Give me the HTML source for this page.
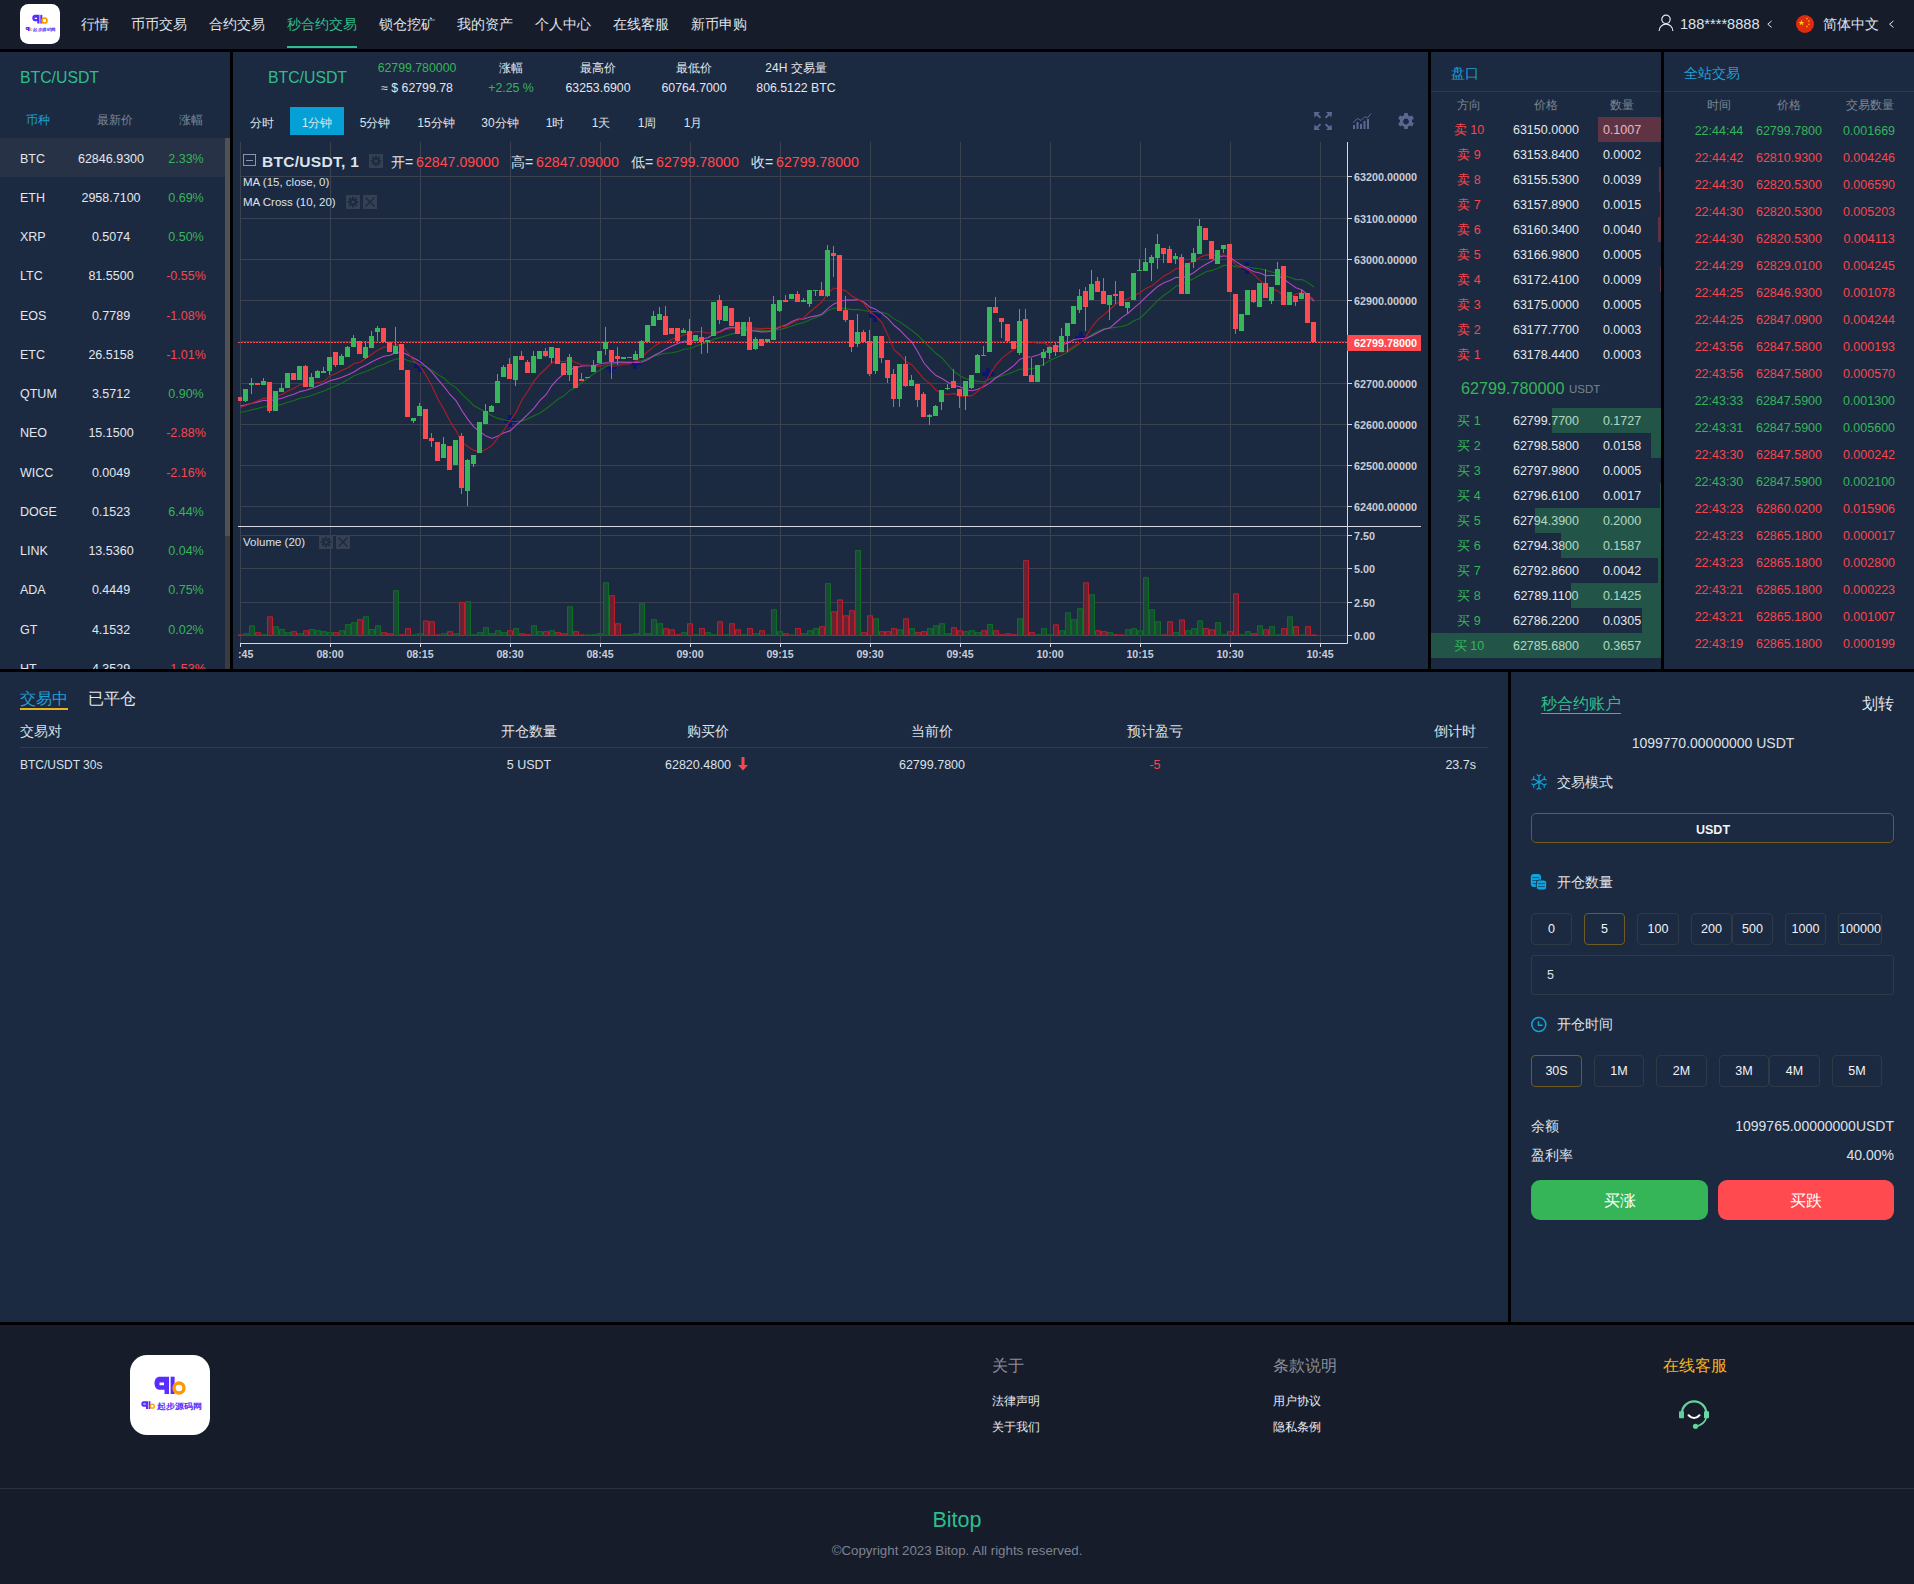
<!DOCTYPE html>
<html><head><meta charset="utf-8">
<style>
*{margin:0;padding:0;box-sizing:border-box}
html,body{width:1914px;height:1584px;overflow:hidden;background:#000;font-family:"Liberation Sans",sans-serif;color:#e3e6ee}
.a{position:absolute;white-space:nowrap}
.p{position:absolute;background:#1b2a40;overflow:hidden}
.hdr{position:absolute;left:0;top:0;width:1914px;height:49px;background:#171c2a}
.nav{position:absolute;top:16px;font-size:14px;line-height:16px;color:#dfe3ea}
.teal{color:#2fbd8f}
.blue{color:#1ea0d8}
.grey{color:#7a8494}
.g{color:#37b45b}
.r{color:#f5474f}
.c{text-align:center}
.rt{text-align:right}
svg{position:absolute;overflow:visible}

</style></head><body>
<div class="hdr">
<svg style="left:20px;top:4px" width="40.0" height="40.0" viewBox="0 0 80 80"><rect width="80" height="80" rx="17" fill="#fff"/><path d="M30 21.7H39V39H34.5V34.7H30C26.5 34.7 24.5 32 24.5 28.2 24.5 24.4 26.5 21.7 30 21.7ZM29.5 27.4V30.2H34V27.4Z" fill="#5a2dff" fill-rule="evenodd"/><rect x="40.6" y="21.7" width="4" height="17.3" fill="#5a2dff"/><circle cx="49" cy="33" r="5" stroke="#ff9800" stroke-width="3.4" fill="none"/><path d="M13.5 46.2h4.5v7.8h-2v-2.2h-2.5c-1.4 0-2.2-1.2-2.2-2.8s0.8-2.8 2.2-2.8zM13.3 48.6v1h2.5v-1z" fill="#5a2dff" fill-rule="evenodd"/><rect x="18.6" y="46.2" width="1.8" height="7.8" fill="#5a2dff"/><circle cx="22.3" cy="51.2" r="2" stroke="#ff9800" stroke-width="1.3" fill="none"/><text x="26.5" y="53.6" font-size="8.3" font-weight="bold" fill="#5a2dff" font-family="Liberation Sans, sans-serif" textLength="45" lengthAdjust="spacingAndGlyphs">起步源码网</text></svg>
<div class="nav a " style="left:81px">行情</div>
<div class="nav a " style="left:131px">币币交易</div>
<div class="nav a " style="left:209px">合约交易</div>
<div class="nav a teal" style="left:287px">秒合约交易</div>
<div class="nav a " style="left:379px">锁仓挖矿</div>
<div class="nav a " style="left:457px">我的资产</div>
<div class="nav a " style="left:535px">个人中心</div>
<div class="nav a " style="left:613px">在线客服</div>
<div class="nav a " style="left:691px">新币申购</div>
<div class="a" style="left:287px;top:46px;width:70px;height:2px;background:#2fbd8f"></div>
<svg style="left:1656px;top:13px" width="20" height="20" viewBox="1656 13 20 20"><circle cx="1666" cy="19.3" r="4.2" stroke="#e6e8f0" stroke-width="1.2" fill="none"/><path d="M1659.2 31A6.8 6.8 0 0 1 1672.8 31" stroke="#e6e8f0" stroke-width="1.2" fill="none"/></svg>
<div class="nav a" style="left:1680px;font-size:14.6px">188****8888</div>
<svg style="left:1765px;top:19px" width="10" height="10" viewBox="1765 19 10 10"><path d="M1771.6 21L1767.8 24.2 1771.6 27.4" stroke="#e6e8f0" stroke-width="1" fill="none"/></svg>
<svg style="left:1796px;top:14.7px" width="18" height="18" viewBox="0 0 18 18"><circle cx="9" cy="9" r="9" fill="#e02a10"/><path d="M5.4 4.8l0.75 2.1h2.2l-1.8 1.3 0.7 2.1-1.85-1.3-1.8 1.3 0.7-2.1-1.8-1.3h2.2z" fill="#ffd400"/><g fill="#f5c000"><circle cx="11" cy="3.6" r="0.8"/><circle cx="12.9" cy="6.1" r="0.8"/><circle cx="12.9" cy="9.2" r="0.8"/><circle cx="11" cy="11.6" r="0.8"/></g></svg>
<div class="nav a" style="left:1823px">简体中文</div>
<svg style="left:1886px;top:19px" width="10" height="10" viewBox="1886 19 10 10"><path d="M1893.4 21L1889.6 24.2 1893.4 27.4" stroke="#e6e8f0" stroke-width="1" fill="none"/></svg>
</div>
<div class="p" style="left:0;top:52px;width:230px;height:617px">
<div class="a teal" style="left:20px;top:17px;font-size:15.8px;line-height:18px">BTC/USDT</div>
<div class="a blue" style="left:26px;top:61px;font-size:12px;line-height:14px">币种</div>
<div class="a grey" style="left:97px;top:61px;font-size:12px;line-height:14px">最新价</div>
<div class="a grey" style="left:179px;top:61px;font-size:12px;line-height:14px">涨幅</div>
<div class="a" style="left:0;top:86px;width:225px;height:39px;background:#283246"></div>
<div class="a" style="left:225px;top:86px;width:5px;height:531px;background:#3a3c40"></div>
<div class="a" style="left:225px;top:86px;width:5px;height:398px;background:#505254"></div>
<div class="a" style="left:20px;top:99.5px;font-size:12.5px;line-height:15px">BTC</div>
<div class="a c" style="left:61px;width:100px;top:99.5px;font-size:12.5px;line-height:15px">62846.9300</div>
<div class="a c g" style="left:146px;width:80px;top:99.5px;font-size:12.5px;line-height:15px">2.33%</div>
<div class="a" style="left:20px;top:138.8px;font-size:12.5px;line-height:15px">ETH</div>
<div class="a c" style="left:61px;width:100px;top:138.8px;font-size:12.5px;line-height:15px">2958.7100</div>
<div class="a c g" style="left:146px;width:80px;top:138.8px;font-size:12.5px;line-height:15px">0.69%</div>
<div class="a" style="left:20px;top:178.0px;font-size:12.5px;line-height:15px">XRP</div>
<div class="a c" style="left:61px;width:100px;top:178.0px;font-size:12.5px;line-height:15px">0.5074</div>
<div class="a c g" style="left:146px;width:80px;top:178.0px;font-size:12.5px;line-height:15px">0.50%</div>
<div class="a" style="left:20px;top:217.2px;font-size:12.5px;line-height:15px">LTC</div>
<div class="a c" style="left:61px;width:100px;top:217.2px;font-size:12.5px;line-height:15px">81.5500</div>
<div class="a c r" style="left:146px;width:80px;top:217.2px;font-size:12.5px;line-height:15px">-0.55%</div>
<div class="a" style="left:20px;top:256.5px;font-size:12.5px;line-height:15px">EOS</div>
<div class="a c" style="left:61px;width:100px;top:256.5px;font-size:12.5px;line-height:15px">0.7789</div>
<div class="a c r" style="left:146px;width:80px;top:256.5px;font-size:12.5px;line-height:15px">-1.08%</div>
<div class="a" style="left:20px;top:295.8px;font-size:12.5px;line-height:15px">ETC</div>
<div class="a c" style="left:61px;width:100px;top:295.8px;font-size:12.5px;line-height:15px">26.5158</div>
<div class="a c r" style="left:146px;width:80px;top:295.8px;font-size:12.5px;line-height:15px">-1.01%</div>
<div class="a" style="left:20px;top:335.0px;font-size:12.5px;line-height:15px">QTUM</div>
<div class="a c" style="left:61px;width:100px;top:335.0px;font-size:12.5px;line-height:15px">3.5712</div>
<div class="a c g" style="left:146px;width:80px;top:335.0px;font-size:12.5px;line-height:15px">0.90%</div>
<div class="a" style="left:20px;top:374.2px;font-size:12.5px;line-height:15px">NEO</div>
<div class="a c" style="left:61px;width:100px;top:374.2px;font-size:12.5px;line-height:15px">15.1500</div>
<div class="a c r" style="left:146px;width:80px;top:374.2px;font-size:12.5px;line-height:15px">-2.88%</div>
<div class="a" style="left:20px;top:413.5px;font-size:12.5px;line-height:15px">WICC</div>
<div class="a c" style="left:61px;width:100px;top:413.5px;font-size:12.5px;line-height:15px">0.0049</div>
<div class="a c r" style="left:146px;width:80px;top:413.5px;font-size:12.5px;line-height:15px">-2.16%</div>
<div class="a" style="left:20px;top:452.8px;font-size:12.5px;line-height:15px">DOGE</div>
<div class="a c" style="left:61px;width:100px;top:452.8px;font-size:12.5px;line-height:15px">0.1523</div>
<div class="a c g" style="left:146px;width:80px;top:452.8px;font-size:12.5px;line-height:15px">6.44%</div>
<div class="a" style="left:20px;top:492.0px;font-size:12.5px;line-height:15px">LINK</div>
<div class="a c" style="left:61px;width:100px;top:492.0px;font-size:12.5px;line-height:15px">13.5360</div>
<div class="a c g" style="left:146px;width:80px;top:492.0px;font-size:12.5px;line-height:15px">0.04%</div>
<div class="a" style="left:20px;top:531.2px;font-size:12.5px;line-height:15px">ADA</div>
<div class="a c" style="left:61px;width:100px;top:531.2px;font-size:12.5px;line-height:15px">0.4449</div>
<div class="a c g" style="left:146px;width:80px;top:531.2px;font-size:12.5px;line-height:15px">0.75%</div>
<div class="a" style="left:20px;top:570.5px;font-size:12.5px;line-height:15px">GT</div>
<div class="a c" style="left:61px;width:100px;top:570.5px;font-size:12.5px;line-height:15px">4.1532</div>
<div class="a c g" style="left:146px;width:80px;top:570.5px;font-size:12.5px;line-height:15px">0.02%</div>
<div class="a" style="left:20px;top:609.8px;font-size:12.5px;line-height:15px">HT</div>
<div class="a c" style="left:61px;width:100px;top:609.8px;font-size:12.5px;line-height:15px">4.3529</div>
<div class="a c r" style="left:146px;width:80px;top:609.8px;font-size:12.5px;line-height:15px">-1.53%</div>
</div>
<div class="p" style="left:233px;top:52px;width:1195px;height:617px">
<div class="a teal" style="left:35.0px;top:17.0px;font-size:15.8px;line-height:18px;">BTC/USDT</div>
<div class="a c g" style="left:124.0px;width:120px;top:9.0px;font-size:12.3px;line-height:14px;">62799.780000</div>
<div class="a c " style="left:124.0px;width:120px;top:29.0px;font-size:12.3px;line-height:14px;">≈ $ 62799.78</div>
<div class="a c " style="left:218.0px;width:120px;top:9.0px;font-size:12px;line-height:14px;">涨幅</div>
<div class="a c g" style="left:218.0px;width:120px;top:29.0px;font-size:12.3px;line-height:14px;">+2.25 %</div>
<div class="a c " style="left:305.0px;width:120px;top:9.0px;font-size:12px;line-height:14px;">最高价</div>
<div class="a c " style="left:305.0px;width:120px;top:29.0px;font-size:12.3px;line-height:14px;">63253.6900</div>
<div class="a c " style="left:401.0px;width:120px;top:9.0px;font-size:12px;line-height:14px;">最低价</div>
<div class="a c " style="left:401.0px;width:120px;top:29.0px;font-size:12.3px;line-height:14px;">60764.7000</div>
<div class="a c " style="left:503.0px;width:120px;top:9.0px;font-size:12px;line-height:14px;">24H 交易量</div>
<div class="a c " style="left:503.0px;width:120px;top:29.0px;font-size:12.3px;line-height:14px;">806.5122 BTC</div>
<div class="a" style="left:57px;top:55px;width:54px;height:28px;background:#04a0d6"></div>
<div class="a c " style="left:-31.0px;width:120px;top:64.0px;font-size:12px;line-height:14px;color:#dfe3ea">分时</div>
<div class="a c " style="left:24.0px;width:120px;top:64.0px;font-size:12px;line-height:14px;color:#dfe3ea">1分钟</div>
<div class="a c " style="left:82.0px;width:120px;top:64.0px;font-size:12px;line-height:14px;color:#dfe3ea">5分钟</div>
<div class="a c " style="left:143.0px;width:120px;top:64.0px;font-size:12px;line-height:14px;color:#dfe3ea">15分钟</div>
<div class="a c " style="left:207.0px;width:120px;top:64.0px;font-size:12px;line-height:14px;color:#dfe3ea">30分钟</div>
<div class="a c " style="left:262.0px;width:120px;top:64.0px;font-size:12px;line-height:14px;color:#dfe3ea">1时</div>
<div class="a c " style="left:308.0px;width:120px;top:64.0px;font-size:12px;line-height:14px;color:#dfe3ea">1天</div>
<div class="a c " style="left:354.0px;width:120px;top:64.0px;font-size:12px;line-height:14px;color:#dfe3ea">1周</div>
<div class="a c " style="left:400.0px;width:120px;top:64.0px;font-size:12px;line-height:14px;color:#dfe3ea">1月</div>
<svg style="left:1079px;top:58px" width="22" height="22" viewBox="1312 110 22 22"><g fill="#5b6791"><path d="M1314 112h6l-2 2 3.2 3.2-1.4 1.4-3.2-3.2-2 2z"/><path d="M1332 112h-6l2 2-3.2 3.2 1.4 1.4 3.2-3.2 2 2z"/><path d="M1314 130h6l-2-2 3.2-3.2-1.4-1.4-3.2 3.2-2-2z"/><path d="M1332 130h-6l2-2-3.2-3.2 1.4-1.4 3.2 3.2 2-2z"/></g></svg>
<svg style="left:1118px;top:59px" width="22" height="20" viewBox="1351 111 22 20"><g fill="#5b6791"><rect x="1353" y="125" width="2" height="4"/><rect x="1356.5" y="122" width="2" height="7"/><rect x="1360" y="124" width="2" height="5"/><rect x="1363.5" y="121" width="2" height="8"/><rect x="1367" y="119" width="2" height="10"/></g><path d="M1353 122.5L1357.5 118.5 1361 120.5 1365 116.5 1367.5 118 1371 113.5" stroke="#5b6791" stroke-width="1" fill="none"/></svg>
<svg style="left:1163px;top:60px" width="20" height="20" viewBox="0 0 20 20"><path fill="#5b6791" fill-rule="evenodd" d="M8.3 1h3.4l0.5 2.4 1.6 0.9 2.3-0.8 1.7 2.9-1.8 1.6v1.9l1.8 1.6-1.7 2.9-2.3-0.8-1.6 0.9-0.5 2.4H8.3l-0.5-2.4-1.6-0.9-2.3 0.8-1.7-2.9 1.8-1.6V8.1L2.2 6.4l1.7-2.9 2.3 0.8 1.6-0.9z M10 6.6a2.9 2.9 0 1 0 0.01 0z"/></svg>
<svg style="left:-233px;top:-52px" width="1914" height="1584" viewBox="0 0 1914 1584"><defs><clipPath id="cp"><rect x="238" y="142" width="1183" height="520"/></clipPath></defs><g clip-path="url(#cp)"><path d="M240.5 142V643 M330.5 142V643 M420.5 142V643 M510.5 142V643 M600.5 142V643 M690.5 142V643 M780.5 142V643 M870.5 142V643 M960.5 142V643 M1050.5 142V643 M1140.5 142V643 M1230.5 142V643 M1320.5 142V643 M240 176.5H1347 M240 218.5H1347 M240 259.5H1347 M240 300.5H1347 M240 341.5H1347 M240 383.5H1347 M240 424.5H1347 M240 465.5H1347 M240 506.5H1347 M240 535.5H1347 M240 568.5H1347 M240 602.5H1347 M240 635.5H1347" stroke="#3b4353" stroke-width="1" fill="none"/>
<path d="M243 633.3h6V636h-6z M249 625.4h6V636h-6z M261 634.3h6V636h-6z M273 626.3h6V636h-6z M279 629.1h6V636h-6z M285 632.2h6V636h-6z M297 633.3h6V636h-6z M309 629.1h6V636h-6z M315 630.3h6V636h-6z M321 631.2h6V636h-6z M327 632.2h6V636h-6z M339 630.3h6V636h-6z M345 624.1h6V636h-6z M351 622.3h6V636h-6z M363 616.4h6V636h-6z M369 629.1h6V636h-6z M375 625.4h6V636h-6z M393 590.3h6V636h-6z M411 634.5h6V636h-6z M417 633.3h6V636h-6z M441 633.3h6V636h-6z M453 633.3h6V636h-6z M465 601.2h6V636h-6z M471 634.3h6V636h-6z M477 632.2h6V636h-6z M483 627.2h6V636h-6z M489 633.3h6V636h-6z M495 630.3h6V636h-6z M501 632.2h6V636h-6z M513 628.2h6V636h-6z M531 625.4h6V636h-6z M537 631.2h6V636h-6z M549 630.3h6V636h-6z M567 606.4h6V636h-6z M585 634.5h6V636h-6z M591 634.3h6V636h-6z M597 633.3h6V636h-6z M603 582.4h6V636h-6z M621 634.5h6V636h-6z M627 634.3h6V636h-6z M633 633.3h6V636h-6z M639 603.3h6V636h-6z M645 633.3h6V636h-6z M651 619.2h6V636h-6z M657 623.3h6V636h-6z M681 632.2h6V636h-6z M693 634.3h6V636h-6z M705 632.2h6V636h-6z M711 634.3h6V636h-6z M723 634.3h6V636h-6z M741 634.3h6V636h-6z M753 633.3h6V636h-6z M765 634.5h6V636h-6z M771 609.3h6V636h-6z M777 631.2h6V636h-6z M789 634.5h6V636h-6z M801 633.3h6V636h-6z M807 630.3h6V636h-6z M813 628.2h6V636h-6z M825 583.2h6V636h-6z M855 550.1h6V636h-6z M873 618.4h6V636h-6z M897 629.4h6V636h-6z M909 628.2h6V636h-6z M927 628.2h6V636h-6z M933 625.4h6V636h-6z M939 623.3h6V636h-6z M945 633.3h6V636h-6z M963 631.2h6V636h-6z M969 630.3h6V636h-6z M975 632.2h6V636h-6z M987 624.1h6V636h-6z M1017 618.4h6V636h-6z M1035 634.3h6V636h-6z M1041 628.2h6V636h-6z M1047 634.3h6V636h-6z M1059 630.3h6V636h-6z M1065 612.4h6V636h-6z M1071 619.2h6V636h-6z M1077 608.2h6V636h-6z M1089 594.4h6V636h-6z M1107 632.2h6V636h-6z M1125 629.4h6V636h-6z M1131 628.2h6V636h-6z M1137 630.3h6V636h-6z M1143 577.2h6V636h-6z M1149 609.3h6V636h-6z M1155 621.3h6V636h-6z M1173 632.2h6V636h-6z M1185 630.3h6V636h-6z M1191 628.2h6V636h-6z M1197 620.5h6V636h-6z M1215 622.3h6V636h-6z M1221 634.3h6V636h-6z M1239 634.3h6V636h-6z M1245 631.2h6V636h-6z M1257 625.4h6V636h-6z M1269 626.3h6V636h-6z M1275 634.5h6V636h-6z M1287 616.4h6V636h-6z M1299 634.5h6V636h-6z" fill="#184a36"/>
<path d="M237 634.5h6V636h-6z M255 632.2h6V636h-6z M267 616.4h6V636h-6z M291 631.2h6V636h-6z M303 630.3h6V636h-6z M333 632.2h6V636h-6z M357 619.2h6V636h-6z M381 632.2h6V636h-6z M387 633.3h6V636h-6z M399 634.3h6V636h-6z M405 628.2h6V636h-6z M423 620.5h6V636h-6z M429 621.3h6V636h-6z M435 634.5h6V636h-6z M447 631.2h6V636h-6z M459 602.1h6V636h-6z M507 630.3h6V636h-6z M519 633.3h6V636h-6z M525 634.3h6V636h-6z M543 631.2h6V636h-6z M555 632.2h6V636h-6z M561 633.3h6V636h-6z M573 631.2h6V636h-6z M579 634.5h6V636h-6z M609 595.2h6V636h-6z M615 623.3h6V636h-6z M663 628.2h6V636h-6z M669 629.4h6V636h-6z M675 634.3h6V636h-6z M687 623.3h6V636h-6z M699 628.2h6V636h-6z M717 621.3h6V636h-6z M729 623.3h6V636h-6z M735 629.4h6V636h-6z M747 628.2h6V636h-6z M759 630.3h6V636h-6z M783 633.3h6V636h-6z M795 628.2h6V636h-6z M819 626.3h6V636h-6z M831 611.3h6V636h-6z M837 599.5h6V636h-6z M843 615.3h6V636h-6z M849 610.3h6V636h-6z M861 632.2h6V636h-6z M867 615.3h6V636h-6z M879 631.2h6V636h-6z M885 631.2h6V636h-6z M891 628.2h6V636h-6z M903 618.4h6V636h-6z M915 632.2h6V636h-6z M921 631.2h6V636h-6z M951 627.2h6V636h-6z M957 630.3h6V636h-6z M981 630.3h6V636h-6z M993 630.3h6V636h-6z M999 634.3h6V636h-6z M1005 633.3h6V636h-6z M1011 634.3h6V636h-6z M1023 560.2h6V636h-6z M1029 632.2h6V636h-6z M1053 624.4h6V636h-6z M1083 582.4h6V636h-6z M1095 630.3h6V636h-6z M1101 631.2h6V636h-6z M1113 634.3h6V636h-6z M1119 634.5h6V636h-6z M1161 634.5h6V636h-6z M1167 621.3h6V636h-6z M1179 619.5h6V636h-6z M1203 628.2h6V636h-6z M1209 629.4h6V636h-6z M1227 631.2h6V636h-6z M1233 593.4h6V636h-6z M1251 633.3h6V636h-6z M1263 629.4h6V636h-6z M1281 628.2h6V636h-6z M1293 626.3h6V636h-6z M1305 626.3h6V636h-6z M1311 634.5h6V636h-6z" fill="#6a2232"/>
<path d="M243.5 635.5V633.8H248.5V635.5Z M249.5 635.5V625.9H254.5V635.5Z M261.5 635.5V634.8H266.5V635.5Z M273.5 635.5V626.8H278.5V635.5Z M279.5 635.5V629.6H284.5V635.5Z M285.5 635.5V632.7H290.5V635.5Z M297.5 635.5V633.8H302.5V635.5Z M309.5 635.5V629.6H314.5V635.5Z M315.5 635.5V630.8H320.5V635.5Z M321.5 635.5V631.7H326.5V635.5Z M327.5 635.5V632.7H332.5V635.5Z M339.5 635.5V630.8H344.5V635.5Z M345.5 635.5V624.6H350.5V635.5Z M351.5 635.5V622.8H356.5V635.5Z M363.5 635.5V616.9H368.5V635.5Z M369.5 635.5V629.6H374.5V635.5Z M375.5 635.5V625.9H380.5V635.5Z M393.5 635.5V590.8H398.5V635.5Z M411.5 635.5V635.0H416.5V635.5Z M417.5 635.5V633.8H422.5V635.5Z M441.5 635.5V633.8H446.5V635.5Z M453.5 635.5V633.8H458.5V635.5Z M465.5 635.5V601.7H470.5V635.5Z M471.5 635.5V634.8H476.5V635.5Z M477.5 635.5V632.7H482.5V635.5Z M483.5 635.5V627.7H488.5V635.5Z M489.5 635.5V633.8H494.5V635.5Z M495.5 635.5V630.8H500.5V635.5Z M501.5 635.5V632.7H506.5V635.5Z M513.5 635.5V628.7H518.5V635.5Z M531.5 635.5V625.9H536.5V635.5Z M537.5 635.5V631.7H542.5V635.5Z M549.5 635.5V630.8H554.5V635.5Z M567.5 635.5V606.9H572.5V635.5Z M585.5 635.5V635.0H590.5V635.5Z M591.5 635.5V634.8H596.5V635.5Z M597.5 635.5V633.8H602.5V635.5Z M603.5 635.5V582.9H608.5V635.5Z M621.5 635.5V635.0H626.5V635.5Z M627.5 635.5V634.8H632.5V635.5Z M633.5 635.5V633.8H638.5V635.5Z M639.5 635.5V603.8H644.5V635.5Z M645.5 635.5V633.8H650.5V635.5Z M651.5 635.5V619.7H656.5V635.5Z M657.5 635.5V623.8H662.5V635.5Z M681.5 635.5V632.7H686.5V635.5Z M693.5 635.5V634.8H698.5V635.5Z M705.5 635.5V632.7H710.5V635.5Z M711.5 635.5V634.8H716.5V635.5Z M723.5 635.5V634.8H728.5V635.5Z M741.5 635.5V634.8H746.5V635.5Z M753.5 635.5V633.8H758.5V635.5Z M765.5 635.5V635.0H770.5V635.5Z M771.5 635.5V609.8H776.5V635.5Z M777.5 635.5V631.7H782.5V635.5Z M789.5 635.5V635.0H794.5V635.5Z M801.5 635.5V633.8H806.5V635.5Z M807.5 635.5V630.8H812.5V635.5Z M813.5 635.5V628.7H818.5V635.5Z M825.5 635.5V583.7H830.5V635.5Z M855.5 635.5V550.6H860.5V635.5Z M873.5 635.5V618.9H878.5V635.5Z M897.5 635.5V629.9H902.5V635.5Z M909.5 635.5V628.7H914.5V635.5Z M927.5 635.5V628.7H932.5V635.5Z M933.5 635.5V625.9H938.5V635.5Z M939.5 635.5V623.8H944.5V635.5Z M945.5 635.5V633.8H950.5V635.5Z M963.5 635.5V631.7H968.5V635.5Z M969.5 635.5V630.8H974.5V635.5Z M975.5 635.5V632.7H980.5V635.5Z M987.5 635.5V624.6H992.5V635.5Z M1017.5 635.5V618.9H1022.5V635.5Z M1035.5 635.5V634.8H1040.5V635.5Z M1041.5 635.5V628.7H1046.5V635.5Z M1047.5 635.5V634.8H1052.5V635.5Z M1059.5 635.5V630.8H1064.5V635.5Z M1065.5 635.5V612.9H1070.5V635.5Z M1071.5 635.5V619.7H1076.5V635.5Z M1077.5 635.5V608.7H1082.5V635.5Z M1089.5 635.5V594.9H1094.5V635.5Z M1107.5 635.5V632.7H1112.5V635.5Z M1125.5 635.5V629.9H1130.5V635.5Z M1131.5 635.5V628.7H1136.5V635.5Z M1137.5 635.5V630.8H1142.5V635.5Z M1143.5 635.5V577.7H1148.5V635.5Z M1149.5 635.5V609.8H1154.5V635.5Z M1155.5 635.5V621.8H1160.5V635.5Z M1173.5 635.5V632.7H1178.5V635.5Z M1185.5 635.5V630.8H1190.5V635.5Z M1191.5 635.5V628.7H1196.5V635.5Z M1197.5 635.5V621.0H1202.5V635.5Z M1215.5 635.5V622.8H1220.5V635.5Z M1221.5 635.5V634.8H1226.5V635.5Z M1239.5 635.5V634.8H1244.5V635.5Z M1245.5 635.5V631.7H1250.5V635.5Z M1257.5 635.5V625.9H1262.5V635.5Z M1269.5 635.5V626.8H1274.5V635.5Z M1275.5 635.5V635.0H1280.5V635.5Z M1287.5 635.5V616.9H1292.5V635.5Z M1299.5 635.5V635.0H1304.5V635.5Z" stroke="#0f6e25" stroke-width="1" fill="none"/>
<path d="M237.5 635.5V635.0H242.5V635.5Z M255.5 635.5V632.7H260.5V635.5Z M267.5 635.5V616.9H272.5V635.5Z M291.5 635.5V631.7H296.5V635.5Z M303.5 635.5V630.8H308.5V635.5Z M333.5 635.5V632.7H338.5V635.5Z M357.5 635.5V619.7H362.5V635.5Z M381.5 635.5V632.7H386.5V635.5Z M387.5 635.5V633.8H392.5V635.5Z M399.5 635.5V634.8H404.5V635.5Z M405.5 635.5V628.7H410.5V635.5Z M423.5 635.5V621.0H428.5V635.5Z M429.5 635.5V621.8H434.5V635.5Z M435.5 635.5V635.0H440.5V635.5Z M447.5 635.5V631.7H452.5V635.5Z M459.5 635.5V602.6H464.5V635.5Z M507.5 635.5V630.8H512.5V635.5Z M519.5 635.5V633.8H524.5V635.5Z M525.5 635.5V634.8H530.5V635.5Z M543.5 635.5V631.7H548.5V635.5Z M555.5 635.5V632.7H560.5V635.5Z M561.5 635.5V633.8H566.5V635.5Z M573.5 635.5V631.7H578.5V635.5Z M579.5 635.5V635.0H584.5V635.5Z M609.5 635.5V595.7H614.5V635.5Z M615.5 635.5V623.8H620.5V635.5Z M663.5 635.5V628.7H668.5V635.5Z M669.5 635.5V629.9H674.5V635.5Z M675.5 635.5V634.8H680.5V635.5Z M687.5 635.5V623.8H692.5V635.5Z M699.5 635.5V628.7H704.5V635.5Z M717.5 635.5V621.8H722.5V635.5Z M729.5 635.5V623.8H734.5V635.5Z M735.5 635.5V629.9H740.5V635.5Z M747.5 635.5V628.7H752.5V635.5Z M759.5 635.5V630.8H764.5V635.5Z M783.5 635.5V633.8H788.5V635.5Z M795.5 635.5V628.7H800.5V635.5Z M819.5 635.5V626.8H824.5V635.5Z M831.5 635.5V611.8H836.5V635.5Z M837.5 635.5V600.0H842.5V635.5Z M843.5 635.5V615.8H848.5V635.5Z M849.5 635.5V610.8H854.5V635.5Z M861.5 635.5V632.7H866.5V635.5Z M867.5 635.5V615.8H872.5V635.5Z M879.5 635.5V631.7H884.5V635.5Z M885.5 635.5V631.7H890.5V635.5Z M891.5 635.5V628.7H896.5V635.5Z M903.5 635.5V618.9H908.5V635.5Z M915.5 635.5V632.7H920.5V635.5Z M921.5 635.5V631.7H926.5V635.5Z M951.5 635.5V627.7H956.5V635.5Z M957.5 635.5V630.8H962.5V635.5Z M981.5 635.5V630.8H986.5V635.5Z M993.5 635.5V630.8H998.5V635.5Z M999.5 635.5V634.8H1004.5V635.5Z M1005.5 635.5V633.8H1010.5V635.5Z M1011.5 635.5V634.8H1016.5V635.5Z M1023.5 635.5V560.7H1028.5V635.5Z M1029.5 635.5V632.7H1034.5V635.5Z M1053.5 635.5V624.9H1058.5V635.5Z M1083.5 635.5V582.9H1088.5V635.5Z M1095.5 635.5V630.8H1100.5V635.5Z M1101.5 635.5V631.7H1106.5V635.5Z M1113.5 635.5V634.8H1118.5V635.5Z M1119.5 635.5V635.0H1124.5V635.5Z M1161.5 635.5V635.0H1166.5V635.5Z M1167.5 635.5V621.8H1172.5V635.5Z M1179.5 635.5V620.0H1184.5V635.5Z M1203.5 635.5V628.7H1208.5V635.5Z M1209.5 635.5V629.9H1214.5V635.5Z M1227.5 635.5V631.7H1232.5V635.5Z M1233.5 635.5V593.9H1238.5V635.5Z M1251.5 635.5V633.8H1256.5V635.5Z M1263.5 635.5V629.9H1268.5V635.5Z M1281.5 635.5V628.7H1286.5V635.5Z M1293.5 635.5V626.8H1298.5V635.5Z M1305.5 635.5V626.8H1310.5V635.5Z M1311.5 635.5V635.0H1316.5V635.5Z" stroke="#bb1f2b" stroke-width="1" fill="none"/>
<path d="M238 342.5H1347" stroke="#ff4a4f" stroke-width="1" stroke-dasharray="2 1"/>
<path d="M414 364h12v4h-12zM418 360h4v12h-4z" fill="#0b1470" opacity="0.9"/>
<path d="M504 419h12v4h-12zM508 415h4v12h-4z" fill="#0b1470" opacity="0.9"/>
<path d="M605 365h12v4h-12zM609 361h4v12h-4z" fill="#0b1470" opacity="0.9"/>
<path d="M629 361h12v4h-12zM633 357h4v12h-4z" fill="#0b1470" opacity="0.9"/>
<path d="M869 314h12v4h-12zM873 310h4v12h-4z" fill="#0b1470" opacity="0.9"/>
<path d="M982 372h12v4h-12zM986 368h4v12h-4z" fill="#0b1470" opacity="0.9"/>
<path d="M1075 336h12v4h-12zM1079 332h4v12h-4z" fill="#0b1470" opacity="0.9"/>
<path d="M1241 266h12v4h-12zM1245 262h4v12h-4z" fill="#0b1470" opacity="0.9"/>
<path d="M240 412.5 L246 411.3 L252 409.8 L258 408.4 L264 406.8 L270 406.7 L276 405.6 L282 404.3 L288 402.3 L294 400.6 L300 398.3 L306 397.0 L312 395.2 L318 393.1 L324 391.0 L330 388.2 L336 385.8 L342 382.9 L348 379.6 L354 375.8 L360 373.5 L366 371.4 L372 369.1 L378 366.2 L384 364.3 L390 361.3 L396 359.1 L402 358.2 L408 360.4 L414 362.3 L420 364.3 L426 366.9 L432 370.1 L438 374.6 L444 378.2 L450 383.9 L456 387.6 L462 394.2 L468 399.9 L474 405.7 L480 409.1 L486 412.3 L492 415.8 L498 418.4 L504 419.7 L510 421.0 L516 421.5 L522 421.0 L528 418.8 L534 415.7 L540 413.0 L546 408.8 L552 404.1 L558 399.3 L564 395.8 L570 390.2 L576 387.6 L582 382.2 L588 378.1 L594 373.6 L600 370.0 L606 366.6 L612 364.4 L618 363.3 L624 362.8 L630 361.7 L636 361.6 L642 360.6 L648 358.2 L654 356.2 L660 354.4 L666 353.3 L672 352.7 L678 351.5 L684 349.3 L690 348.7 L696 346.0 L702 344.1 L708 342.3 L714 339.1 L720 337.6 L726 335.8 L732 333.9 L738 332.7 L744 331.0 L750 330.6 L756 329.9 L762 330.1 L768 330.8 L774 330.2 L780 329.5 L786 327.9 L792 325.9 L798 323.9 L804 322.5 L810 319.7 L816 317.5 L822 315.1 L828 310.6 L834 308.3 L840 307.9 L846 308.6 L852 309.6 L858 309.5 L864 310.5 L870 311.7 L876 311.6 L882 312.2 L888 314.1 L894 318.9 L900 322.1 L906 326.3 L912 330.6 L918 335.5 L924 341.3 L930 347.6 L936 353.3 L942 358.0 L948 364.9 L954 371.5 L960 375.8 L966 378.8 L972 380.2 L978 381.4 L984 382.1 L990 378.8 L996 377.6 L1002 375.8 L1008 373.9 L1014 371.4 L1020 369.3 L1026 368.8 L1032 368.9 L1038 367.1 L1044 363.9 L1050 360.5 L1056 357.8 L1062 355.1 L1068 351.9 L1074 347.8 L1080 342.8 L1086 339.1 L1092 334.5 L1098 331.3 L1104 328.7 L1110 328.1 L1116 327.3 L1122 326.5 L1128 324.5 L1134 320.7 L1140 318.2 L1146 312.5 L1152 306.3 L1158 300.2 L1164 295.3 L1170 291.1 L1176 286.3 L1182 284.2 L1188 281.2 L1194 278.5 L1200 275.0 L1206 271.7 L1212 270.4 L1218 268.3 L1224 265.4 L1230 265.2 L1236 266.9 L1242 267.3 L1248 266.7 L1254 268.1 L1260 268.8 L1266 270.5 L1272 272.0 L1278 273.3 L1284 275.8 L1290 277.3 L1296 279.6 L1302 279.6 L1308 282.6 L1314 287.0" stroke="#16701e" stroke-width="1.1" fill="none"/>
<path d="M240 406.0 L246 404.9 L252 403.3 L258 401.9 L264 400.2 L270 400.5 L276 399.5 L282 398.2 L288 396.0 L294 394.3 L300 391.6 L306 390.3 L312 388.3 L318 386.0 L324 383.6 L330 380.7 L336 379.1 L342 377.3 L348 374.7 L354 371.9 L360 368.1 L366 365.1 L372 361.7 L378 358.7 L384 356.2 L390 355.2 L396 352.5 L402 352.0 L408 355.1 L414 358.2 L420 361.5 L426 366.4 L432 372.1 L438 379.7 L444 386.7 L450 394.5 L456 400.7 L462 410.8 L468 419.6 L474 427.1 L480 431.8 L486 436.1 L492 438.5 L498 436.1 L504 432.7 L510 430.9 L516 425.4 L522 420.0 L528 414.1 L534 408.2 L540 400.3 L546 394.7 L552 385.3 L558 378.9 L564 373.6 L570 369.2 L576 367.7 L582 366.0 L588 365.8 L594 365.6 L600 363.8 L606 362.8 L612 363.0 L618 362.0 L624 362.1 L630 362.5 L636 362.4 L642 362.0 L648 359.4 L654 355.5 L660 352.6 L666 349.1 L672 345.9 L678 343.5 L684 341.2 L690 340.8 L696 340.3 L702 339.0 L708 337.8 L714 334.1 L720 331.6 L726 328.4 L732 327.4 L738 328.0 L744 328.4 L750 330.8 L756 331.1 L762 331.9 L768 331.8 L774 330.0 L780 327.1 L786 324.9 L792 321.6 L798 319.1 L804 319.0 L810 317.0 L816 315.9 L822 313.9 L828 308.3 L834 303.9 L840 301.3 L846 300.0 L852 300.1 L858 299.6 L864 302.2 L870 307.1 L876 309.4 L882 313.6 L888 318.7 L894 325.3 L900 330.2 L906 336.6 L912 342.2 L918 352.2 L924 363.0 L930 369.9 L936 375.6 L942 378.5 L948 382.2 L954 385.2 L960 386.7 L966 389.7 L972 390.8 L978 389.3 L984 386.4 L990 382.7 L996 377.8 L1002 373.9 L1008 370.0 L1014 365.4 L1020 359.2 L1026 357.2 L1032 356.7 L1038 355.1 L1044 352.7 L1050 349.5 L1056 347.6 L1062 345.0 L1068 342.8 L1074 339.5 L1080 338.7 L1086 338.3 L1092 335.8 L1098 332.5 L1104 329.5 L1110 327.8 L1116 322.5 L1122 317.4 L1128 313.2 L1134 307.9 L1140 302.8 L1146 296.8 L1152 291.5 L1158 286.2 L1164 282.8 L1170 280.6 L1176 277.2 L1182 277.8 L1188 275.9 L1194 272.5 L1200 267.9 L1206 264.2 L1212 261.1 L1218 257.6 L1224 255.7 L1230 257.2 L1236 261.6 L1242 265.4 L1248 268.5 L1254 271.7 L1260 273.0 L1266 275.8 L1272 275.3 L1278 275.8 L1284 279.2 L1290 283.6 L1296 287.8 L1302 290.0 L1308 294.9 L1314 301.4" stroke="#b048c4" stroke-width="1.1" fill="none"/>
<path d="M240 407.5 L246 405.6 L252 403.0 L258 400.7 L264 398.0 L270 398.3 L276 396.6 L282 394.5 L288 391.0 L294 388.2 L300 384.7 L306 384.5 L312 383.9 L318 382.5 L324 381.5 L330 376.1 L336 373.5 L342 370.3 L348 367.7 L354 363.5 L360 362.3 L366 358.3 L372 354.2 L378 349.9 L384 347.0 L390 346.5 L396 344.6 L402 346.0 L408 353.0 L414 361.0 L420 366.2 L426 375.4 L432 385.9 L438 399.2 L444 409.4 L450 421.2 L456 430.6 L462 442.4 L468 446.7 L474 450.4 L480 452.0 L486 449.2 L492 445.7 L498 437.7 L504 430.0 L510 420.9 L516 412.5 L522 399.7 L528 391.0 L534 381.1 L540 374.0 L546 368.5 L552 362.6 L558 360.9 L564 361.7 L570 359.5 L576 362.7 L582 364.8 L588 365.1 L594 366.1 L600 366.1 L606 364.7 L612 366.2 L618 365.7 L624 363.9 L630 363.9 L636 360.5 L642 356.5 L648 351.3 L654 346.4 L660 342.7 L666 342.0 L672 339.2 L678 337.4 L684 334.7 L690 333.5 L696 331.6 L702 331.7 L708 333.2 L714 331.8 L720 332.4 L726 329.5 L732 328.7 L738 328.0 L744 327.2 L750 327.8 L756 328.2 L762 328.5 L768 328.4 L774 328.6 L780 326.6 L786 326.2 L792 323.0 L798 319.9 L804 317.7 L810 311.7 L816 306.8 L822 301.8 L828 292.9 L834 288.0 L840 289.1 L846 290.9 L852 296.2 L858 299.2 L864 303.4 L870 311.8 L876 316.4 L882 322.6 L888 335.4 L894 349.7 L900 355.0 L906 361.6 L912 364.9 L918 371.8 L924 379.2 L930 383.3 L936 390.3 L942 393.5 L948 394.5 L954 393.4 L960 396.6 L966 396.1 L972 395.6 L978 391.1 L984 385.0 L990 374.2 L996 364.9 L1002 358.1 L1008 353.4 L1014 349.5 L1020 342.0 L1026 341.5 L1032 342.2 L1038 343.2 L1044 342.8 L1050 346.8 L1056 350.7 L1062 352.1 L1068 350.3 L1074 346.0 L1080 343.5 L1086 336.6 L1092 326.8 L1098 319.5 L1104 314.7 L1110 309.5 L1116 303.8 L1122 300.8 L1128 298.7 L1134 295.4 L1140 292.8 L1146 288.4 L1152 285.7 L1158 280.9 L1164 275.9 L1170 272.7 L1176 268.7 L1182 267.5 L1188 263.6 L1194 261.6 L1200 257.2 L1206 254.9 L1212 255.1 L1218 255.7 L1224 254.8 L1230 257.7 L1236 265.0 L1242 267.0 L1248 269.7 L1254 274.6 L1260 280.3 L1266 286.1 L1272 288.9 L1278 290.9 L1284 296.9 L1290 296.9 L1296 294.2 L1302 292.1 L1308 295.4 L1314 299.4" stroke="#b01c28" stroke-width="1.1" fill="none"/>
<path d="M243 389h5V401h-5zM245 401h1V402h-1zM249 383h5V385h-5zM251 378h1V383h-1zM251 385h1V394h-1zM261 381h5V385h-5zM263 378h1V381h-1zM273 391h5V411h-5zM279 388h5V392h-5zM281 383h1V388h-1zM285 373h5V388h-5zM297 366h5V380h-5zM309 377h5V387h-5zM311 373h1V377h-1zM315 371h5V378h-5zM317 370h1V371h-1zM321 371h5V373h-5zM323 367h1V371h-1zM327 357h5V371h-5zM329 371h1V375h-1zM339 356h5V365h-5zM341 354h1V356h-1zM345 347h5V357h-5zM347 346h1V347h-1zM351 338h5V347h-5zM353 335h1V338h-1zM363 347h5V358h-5zM365 341h1V347h-1zM365 358h1V359h-1zM369 336h5V348h-5zM371 331h1V336h-1zM375 328h5V332h-5zM377 326h1V328h-1zM377 332h1V341h-1zM393 346h5V354h-5zM395 327h1V346h-1zM411 418h5V421h-5zM413 421h1V423h-1zM417 406h5V416h-5zM419 403h1V406h-1zM441 444h5V458h-5zM443 437h1V444h-1zM453 440h5V465h-5zM465 460h5V491h-5zM467 459h1V460h-1zM467 491h1V506h-1zM471 455h5V464h-5zM473 464h1V467h-1zM477 422h5V453h-5zM483 411h5V424h-5zM485 404h1V411h-1zM489 406h5V412h-5zM491 405h1V406h-1zM495 381h5V403h-5zM497 374h1V381h-1zM501 367h5V377h-5zM503 365h1V367h-1zM513 356h5V380h-5zM515 380h1V386h-1zM531 356h5V373h-5zM533 351h1V356h-1zM537 351h5V359h-5zM549 347h5V358h-5zM551 358h1V363h-1zM567 357h5V375h-5zM569 354h1V357h-1zM569 375h1V381h-1zM585 377h5V378h-5zM591 365h5V372h-5zM593 360h1V365h-1zM597 351h5V363h-5zM603 342h5V349h-5zM605 327h1V342h-1zM605 349h1V355h-1zM621 357h5V359h-5zM627 357h5V358h-5zM633 354h5V360h-5zM635 351h1V354h-1zM639 341h5V358h-5zM641 340h1V341h-1zM645 325h5V342h-5zM651 316h5V326h-5zM653 311h1V316h-1zM657 314h5V320h-5zM659 307h1V314h-1zM681 330h5V333h-5zM683 328h1V330h-1zM693 335h5V341h-5zM705 340h5V342h-5zM707 342h1V353h-1zM711 302h5V336h-5zM723 306h5V321h-5zM741 322h5V336h-5zM753 339h5V349h-5zM755 337h1V339h-1zM755 349h1V350h-1zM765 339h5V342h-5zM771 304h5V340h-5zM773 296h1V304h-1zM777 300h5V311h-5zM779 311h1V312h-1zM789 294h5V299h-5zM801 300h5V302h-5zM803 298h1V300h-1zM807 290h5V304h-5zM809 304h1V307h-1zM813 290h5V291h-5zM815 291h1V296h-1zM825 250h5V296h-5zM827 245h1V250h-1zM827 296h1V297h-1zM855 332h5V344h-5zM857 314h1V332h-1zM857 344h1V347h-1zM873 336h5V371h-5zM875 371h1V374h-1zM897 364h5V399h-5zM899 399h1V407h-1zM909 380h5V386h-5zM911 375h1V380h-1zM927 415h5V417h-5zM929 414h1V415h-1zM929 417h1V425h-1zM933 406h5V416h-5zM935 405h1V406h-1zM939 390h5V402h-5zM941 402h1V410h-1zM945 388h5V389h-5zM947 384h1V388h-1zM947 389h1V390h-1zM963 381h5V396h-5zM965 396h1V410h-1zM969 375h5V388h-5zM971 388h1V389h-1zM975 355h5V373h-5zM977 354h1V355h-1zM987 307h5V352h-5zM1017 321h5V353h-5zM1019 309h1V321h-1zM1019 353h1V355h-1zM1035 365h5V382h-5zM1041 352h5V358h-5zM1043 349h1V352h-1zM1043 358h1V366h-1zM1047 347h5V353h-5zM1049 353h1V359h-1zM1059 336h5V352h-5zM1061 328h1V336h-1zM1065 323h5V336h-5zM1067 336h1V352h-1zM1071 306h5V324h-5zM1077 296h5V310h-5zM1079 289h1V296h-1zM1079 310h1V313h-1zM1089 284h5V300h-5zM1091 270h1V284h-1zM1107 295h5V305h-5zM1109 305h1V320h-1zM1125 302h5V308h-5zM1127 308h1V313h-1zM1131 273h5V300h-5zM1137 270h5V271h-5zM1139 259h1V270h-1zM1143 262h5V271h-5zM1145 248h1V262h-1zM1149 257h5V263h-5zM1151 255h1V257h-1zM1151 263h1V281h-1zM1155 244h5V258h-5zM1157 234h1V244h-1zM1157 258h1V269h-1zM1173 256h5V259h-5zM1175 253h1V256h-1zM1175 259h1V264h-1zM1185 263h5V294h-5zM1191 253h5V262h-5zM1193 248h1V253h-1zM1193 262h1V268h-1zM1197 226h5V254h-5zM1199 219h1V226h-1zM1215 250h5V264h-5zM1221 245h5V249h-5zM1223 249h1V253h-1zM1239 314h5V331h-5zM1245 290h5V315h-5zM1257 283h5V307h-5zM1269 287h5V301h-5zM1271 301h1V304h-1zM1275 269h5V285h-5zM1277 262h1V269h-1zM1287 292h5V305h-5zM1299 293h5V299h-5zM1301 290h1V293h-1z" fill="#37b65b"/>
<path d="M237 397h5V401h-5zM255 383h5V385h-5zM267 382h5V411h-5zM269 411h1V413h-1zM291 373h5V380h-5zM303 366h5V387h-5zM305 365h1V366h-1zM333 352h5V365h-5zM335 365h1V367h-1zM357 341h5V354h-5zM381 328h5V342h-5zM387 342h5V352h-5zM399 344h5V370h-5zM405 370h5V417h-5zM423 409h5V439h-5zM429 438h5V441h-5zM431 433h1V438h-1zM431 441h1V447h-1zM435 442h5V461h-5zM447 446h5V470h-5zM459 436h5V488h-5zM461 433h1V436h-1zM461 488h1V494h-1zM507 364h5V379h-5zM509 358h1V364h-1zM519 356h5V360h-5zM521 351h1V356h-1zM525 362h5V373h-5zM527 360h1V362h-1zM543 351h5V356h-5zM545 348h1V351h-1zM545 356h1V357h-1zM555 348h5V364h-5zM561 363h5V375h-5zM573 366h5V388h-5zM579 379h5V381h-5zM581 373h1V379h-1zM609 350h5V362h-5zM611 362h1V379h-1zM615 356h5V359h-5zM617 347h1V356h-1zM617 359h1V365h-1zM663 316h5V335h-5zM665 306h1V316h-1zM669 328h5V334h-5zM675 328h5V341h-5zM677 341h1V343h-1zM687 331h5V345h-5zM689 319h1V331h-1zM699 337h5V342h-5zM701 327h1V337h-1zM701 342h1V354h-1zM717 300h5V320h-5zM719 295h1V300h-1zM719 320h1V324h-1zM729 308h5V326h-5zM735 322h5V334h-5zM747 322h5V350h-5zM749 317h1V322h-1zM759 339h5V346h-5zM783 300h5V302h-5zM785 295h1V300h-1zM795 294h5V302h-5zM797 291h1V294h-1zM819 290h5V296h-5zM821 282h1V290h-1zM831 253h5V256h-5zM833 246h1V253h-1zM833 256h1V277h-1zM837 255h5V311h-5zM843 310h5V320h-5zM845 296h1V310h-1zM845 320h1V322h-1zM849 320h5V347h-5zM851 347h1V352h-1zM861 332h5V342h-5zM863 330h1V332h-1zM867 341h5V374h-5zM869 330h1V341h-1zM869 374h1V376h-1zM879 336h5V358h-5zM881 358h1V363h-1zM885 360h5V378h-5zM887 378h1V383h-1zM891 374h5V399h-5zM893 369h1V374h-1zM893 399h1V407h-1zM903 364h5V386h-5zM905 356h1V364h-1zM905 386h1V387h-1zM915 384h5V400h-5zM917 400h1V407h-1zM921 394h5V417h-5zM923 392h1V394h-1zM951 381h5V388h-5zM953 369h1V381h-1zM957 389h5V396h-5zM959 396h1V408h-1zM981 355h5V356h-5zM983 346h1V355h-1zM993 307h5V313h-5zM995 297h1V307h-1zM999 318h5V322h-5zM1001 322h1V338h-1zM1005 324h5V341h-5zM1007 341h1V343h-1zM1011 341h5V349h-5zM1023 319h5V376h-5zM1025 309h1V319h-1zM1029 375h5V382h-5zM1031 358h1V375h-1zM1053 345h5V352h-5zM1055 343h1V345h-1zM1055 352h1V356h-1zM1083 291h5V307h-5zM1085 287h1V291h-1zM1085 307h1V331h-1zM1095 281h5V292h-5zM1097 277h1V281h-1zM1101 291h5V304h-5zM1103 278h1V291h-1zM1113 294h5V296h-5zM1115 281h1V294h-1zM1115 296h1V304h-1zM1119 291h5V306h-5zM1161 248h5V254h-5zM1163 254h1V263h-1zM1167 249h5V263h-5zM1169 246h1V249h-1zM1179 257h5V294h-5zM1181 254h1V257h-1zM1203 228h5V240h-5zM1209 241h5V259h-5zM1227 244h5V292h-5zM1233 294h5V329h-5zM1235 329h1V334h-1zM1251 290h5V302h-5zM1253 302h1V303h-1zM1263 283h5V298h-5zM1265 269h1V283h-1zM1281 266h5V305h-5zM1293 296h5V302h-5zM1295 302h1V306h-1zM1305 293h5V323h-5zM1311 322h5V342h-5z" fill="#ff4a4f"/>
<path d="M1347.5 142V643.5H240" stroke="#d6d9e4" stroke-width="1" fill="none"/>
<path d="M238 526.5H1421" stroke="#d6d9e4" stroke-width="1.2" fill="none"/>
<path d="M1348 176.5h4 M1348 218.5h4 M1348 259.5h4 M1348 300.5h4 M1348 341.5h4 M1348 383.5h4 M1348 424.5h4 M1348 465.5h4 M1348 506.5h4 M1348 535.5h4 M1348 568.5h4 M1348 602.5h4 M1348 635.5h4 M240.5 644v3 M330.5 644v3 M420.5 644v3 M510.5 644v3 M600.5 644v3 M690.5 644v3 M780.5 644v3 M870.5 644v3 M960.5 644v3 M1050.5 644v3 M1140.5 644v3 M1230.5 644v3 M1320.5 644v3" stroke="#d6d9e4" stroke-width="1"/>
<rect x="1347" y="335" width="74" height="16" fill="#ff4a4f"/></g></svg>
<div class="a " style="left:1121px;top:118.5px;font-size:10.8px;line-height:13px;color:#c9cdd9;font-weight:bold">63200.00000</div>
<div class="a " style="left:1121px;top:160.5px;font-size:10.8px;line-height:13px;color:#c9cdd9;font-weight:bold">63100.00000</div>
<div class="a " style="left:1121px;top:201.5px;font-size:10.8px;line-height:13px;color:#c9cdd9;font-weight:bold">63000.00000</div>
<div class="a " style="left:1121px;top:242.5px;font-size:10.8px;line-height:13px;color:#c9cdd9;font-weight:bold">62900.00000</div>
<div class="a " style="left:1121px;top:325.5px;font-size:10.8px;line-height:13px;color:#c9cdd9;font-weight:bold">62700.00000</div>
<div class="a " style="left:1121px;top:366.5px;font-size:10.8px;line-height:13px;color:#c9cdd9;font-weight:bold">62600.00000</div>
<div class="a " style="left:1121px;top:407.5px;font-size:10.8px;line-height:13px;color:#c9cdd9;font-weight:bold">62500.00000</div>
<div class="a " style="left:1121px;top:448.5px;font-size:10.8px;line-height:13px;color:#c9cdd9;font-weight:bold">62400.00000</div>
<div class="a " style="left:1121px;top:285.0px;font-size:10.8px;line-height:13px;color:#fff;font-weight:bold">62799.78000</div>
<div class="a " style="left:1121px;top:477.5px;font-size:10.8px;line-height:13px;color:#c9cdd9;font-weight:bold">7.50</div>
<div class="a " style="left:1121px;top:510.5px;font-size:10.8px;line-height:13px;color:#c9cdd9;font-weight:bold">5.00</div>
<div class="a " style="left:1121px;top:544.5px;font-size:10.8px;line-height:13px;color:#c9cdd9;font-weight:bold">2.50</div>
<div class="a " style="left:1121px;top:577.5px;font-size:10.8px;line-height:13px;color:#c9cdd9;font-weight:bold">0.00</div>
<div class="a c" style="left:67px;width:60px;top:595.5px;font-size:10.6px;line-height:13px;color:#c9cdd9;font-weight:bold">08:00</div>
<div class="a c" style="left:157px;width:60px;top:595.5px;font-size:10.6px;line-height:13px;color:#c9cdd9;font-weight:bold">08:15</div>
<div class="a c" style="left:247px;width:60px;top:595.5px;font-size:10.6px;line-height:13px;color:#c9cdd9;font-weight:bold">08:30</div>
<div class="a c" style="left:337px;width:60px;top:595.5px;font-size:10.6px;line-height:13px;color:#c9cdd9;font-weight:bold">08:45</div>
<div class="a c" style="left:427px;width:60px;top:595.5px;font-size:10.6px;line-height:13px;color:#c9cdd9;font-weight:bold">09:00</div>
<div class="a c" style="left:517px;width:60px;top:595.5px;font-size:10.6px;line-height:13px;color:#c9cdd9;font-weight:bold">09:15</div>
<div class="a c" style="left:607px;width:60px;top:595.5px;font-size:10.6px;line-height:13px;color:#c9cdd9;font-weight:bold">09:30</div>
<div class="a c" style="left:697px;width:60px;top:595.5px;font-size:10.6px;line-height:13px;color:#c9cdd9;font-weight:bold">09:45</div>
<div class="a c" style="left:787px;width:60px;top:595.5px;font-size:10.6px;line-height:13px;color:#c9cdd9;font-weight:bold">10:00</div>
<div class="a c" style="left:877px;width:60px;top:595.5px;font-size:10.6px;line-height:13px;color:#c9cdd9;font-weight:bold">10:15</div>
<div class="a c" style="left:967px;width:60px;top:595.5px;font-size:10.6px;line-height:13px;color:#c9cdd9;font-weight:bold">10:30</div>
<div class="a c" style="left:1057px;width:60px;top:595.5px;font-size:10.6px;line-height:13px;color:#c9cdd9;font-weight:bold">10:45</div>
<div class="a" style="left:5px;top:595.5px;font-size:10.6px;line-height:13px;color:#c9cdd9;font-weight:bold">:45</div>
<div class="a" style="left:10px;top:102px;width:13px;height:12px;border:1px solid #8b93a6"><div style="position:absolute;left:2px;top:5px;width:7px;height:1px;background:#8b93a6"></div></div>
<div class="a " style="left:29px;top:100.5px;font-size:15.5px;line-height:18px;color:#dfe2ec;font-weight:bold;letter-spacing:0.3px">BTC/USDT, 1</div>
<svg style="left:136px;top:102px" width="14" height="14" viewBox="0 0 14 14"><rect width="14" height="14" fill="#354152"/><g fill="#1d2b40"><circle cx="7" cy="7" r="3.6"/><rect x="6" y="1.7" width="2" height="10.6"/><rect x="1.7" y="6" width="10.6" height="2"/><rect x="6" y="1.7" width="2" height="10.6" transform="rotate(45 7 7)"/><rect x="6" y="1.7" width="2" height="10.6" transform="rotate(-45 7 7)"/></g><circle cx="7" cy="7" r="1.6" fill="#354152"/></svg>
<div class="a " style="left:158px;top:101.5px;font-size:14px;line-height:16px;color:#dfe2ec">开=</div>
<div class="a " style="left:183px;top:101.5px;font-size:14.2px;line-height:16px;color:#ff4a4f">62847.09000</div>
<div class="a " style="left:278px;top:101.5px;font-size:14px;line-height:16px;color:#dfe2ec">高=</div>
<div class="a " style="left:303px;top:101.5px;font-size:14.2px;line-height:16px;color:#ff4a4f">62847.09000</div>
<div class="a " style="left:398px;top:101.5px;font-size:14px;line-height:16px;color:#dfe2ec">低=</div>
<div class="a " style="left:423px;top:101.5px;font-size:14.2px;line-height:16px;color:#ff4a4f">62799.78000</div>
<div class="a " style="left:518px;top:101.5px;font-size:14px;line-height:16px;color:#dfe2ec">收=</div>
<div class="a " style="left:543px;top:101.5px;font-size:14.2px;line-height:16px;color:#ff4a4f">62799.78000</div>
<div class="a " style="left:10px;top:122.5px;font-size:11.5px;line-height:14px;color:#dfe2ec">MA (15, close, 0)</div>
<div class="a " style="left:10px;top:142.5px;font-size:11.5px;line-height:14px;color:#dfe2ec">MA Cross (10, 20)</div>
<svg style="left:113px;top:143px" width="14" height="14" viewBox="0 0 14 14"><rect width="14" height="14" fill="#354152"/><g fill="#1d2b40"><circle cx="7" cy="7" r="3.6"/><rect x="6" y="1.7" width="2" height="10.6"/><rect x="1.7" y="6" width="10.6" height="2"/><rect x="6" y="1.7" width="2" height="10.6" transform="rotate(45 7 7)"/><rect x="6" y="1.7" width="2" height="10.6" transform="rotate(-45 7 7)"/></g><circle cx="7" cy="7" r="1.6" fill="#354152"/></svg>
<svg style="left:130px;top:143px" width="14" height="14" viewBox="0 0 14 14"><rect width="14" height="14" fill="#354152"/><path d="M2.5 2.5L11.5 11.5M11.5 2.5L2.5 11.5" stroke="#1d2b40" stroke-width="1.5"/></svg>
<div class="a " style="left:10px;top:482.5px;font-size:11.5px;line-height:14px;color:#dfe2ec">Volume (20)</div>
<svg style="left:86px;top:483px" width="14" height="14" viewBox="0 0 14 14"><rect width="14" height="14" fill="#354152"/><g fill="#1d2b40"><circle cx="7" cy="7" r="3.6"/><rect x="6" y="1.7" width="2" height="10.6"/><rect x="1.7" y="6" width="10.6" height="2"/><rect x="6" y="1.7" width="2" height="10.6" transform="rotate(45 7 7)"/><rect x="6" y="1.7" width="2" height="10.6" transform="rotate(-45 7 7)"/></g><circle cx="7" cy="7" r="1.6" fill="#354152"/></svg>
<svg style="left:103px;top:483px" width="14" height="14" viewBox="0 0 14 14"><rect width="14" height="14" fill="#354152"/><path d="M2.5 2.5L11.5 11.5M11.5 2.5L2.5 11.5" stroke="#1d2b40" stroke-width="1.5"/></svg>
</div>
<div class="p" style="left:1431px;top:52px;width:230px;height:617px">
<div class="a blue" style="left:20.0px;top:13.0px;font-size:14px;line-height:16px;">盘口</div>
<div class="a" style="left:0;top:39px;width:230px;height:1px;background:#2c394d"></div>
<div class="a c grey" style="left:-12.0px;width:100px;top:46.0px;font-size:12px;line-height:14px;">方向</div>
<div class="a c grey" style="left:65.0px;width:100px;top:46.0px;font-size:12px;line-height:14px;">价格</div>
<div class="a c grey" style="left:141.0px;width:100px;top:46.0px;font-size:12px;line-height:14px;">数量</div>
<div class="a c r" style="left:-12.0px;width:100px;top:70.5px;font-size:12.5px;line-height:15px;">卖 10</div>
<div class="a c " style="left:65.0px;width:100px;top:70.5px;font-size:12.5px;line-height:15px;">63150.0000</div>
<div class="a c " style="left:141.0px;width:100px;top:70.5px;font-size:12.5px;line-height:15px;">0.1007</div>
<div class="a" style="left:167px;top:65px;width:63px;height:25px;background:rgba(245,71,79,0.31)"></div>
<div class="a c r" style="left:-12.0px;width:100px;top:95.5px;font-size:12.5px;line-height:15px;">卖 9</div>
<div class="a c " style="left:65.0px;width:100px;top:95.5px;font-size:12.5px;line-height:15px;">63153.8400</div>
<div class="a c " style="left:141.0px;width:100px;top:95.5px;font-size:12.5px;line-height:15px;">0.0002</div>
<div class="a c r" style="left:-12.0px;width:100px;top:120.5px;font-size:12.5px;line-height:15px;">卖 8</div>
<div class="a c " style="left:65.0px;width:100px;top:120.5px;font-size:12.5px;line-height:15px;">63155.5300</div>
<div class="a c " style="left:141.0px;width:100px;top:120.5px;font-size:12.5px;line-height:15px;">0.0039</div>
<div class="a" style="left:228px;top:115px;width:2px;height:25px;background:rgba(245,71,79,0.31)"></div>
<div class="a c r" style="left:-12.0px;width:100px;top:145.5px;font-size:12.5px;line-height:15px;">卖 7</div>
<div class="a c " style="left:65.0px;width:100px;top:145.5px;font-size:12.5px;line-height:15px;">63157.8900</div>
<div class="a c " style="left:141.0px;width:100px;top:145.5px;font-size:12.5px;line-height:15px;">0.0015</div>
<div class="a" style="left:229px;top:140px;width:1px;height:25px;background:rgba(245,71,79,0.31)"></div>
<div class="a c r" style="left:-12.0px;width:100px;top:170.5px;font-size:12.5px;line-height:15px;">卖 6</div>
<div class="a c " style="left:65.0px;width:100px;top:170.5px;font-size:12.5px;line-height:15px;">63160.3400</div>
<div class="a c " style="left:141.0px;width:100px;top:170.5px;font-size:12.5px;line-height:15px;">0.0040</div>
<div class="a" style="left:227px;top:165px;width:3px;height:25px;background:rgba(245,71,79,0.31)"></div>
<div class="a c r" style="left:-12.0px;width:100px;top:195.5px;font-size:12.5px;line-height:15px;">卖 5</div>
<div class="a c " style="left:65.0px;width:100px;top:195.5px;font-size:12.5px;line-height:15px;">63166.9800</div>
<div class="a c " style="left:141.0px;width:100px;top:195.5px;font-size:12.5px;line-height:15px;">0.0005</div>
<div class="a c r" style="left:-12.0px;width:100px;top:220.5px;font-size:12.5px;line-height:15px;">卖 4</div>
<div class="a c " style="left:65.0px;width:100px;top:220.5px;font-size:12.5px;line-height:15px;">63172.4100</div>
<div class="a c " style="left:141.0px;width:100px;top:220.5px;font-size:12.5px;line-height:15px;">0.0009</div>
<div class="a" style="left:229px;top:215px;width:1px;height:25px;background:rgba(245,71,79,0.31)"></div>
<div class="a c r" style="left:-12.0px;width:100px;top:245.5px;font-size:12.5px;line-height:15px;">卖 3</div>
<div class="a c " style="left:65.0px;width:100px;top:245.5px;font-size:12.5px;line-height:15px;">63175.0000</div>
<div class="a c " style="left:141.0px;width:100px;top:245.5px;font-size:12.5px;line-height:15px;">0.0005</div>
<div class="a c r" style="left:-12.0px;width:100px;top:270.5px;font-size:12.5px;line-height:15px;">卖 2</div>
<div class="a c " style="left:65.0px;width:100px;top:270.5px;font-size:12.5px;line-height:15px;">63177.7700</div>
<div class="a c " style="left:141.0px;width:100px;top:270.5px;font-size:12.5px;line-height:15px;">0.0003</div>
<div class="a c r" style="left:-12.0px;width:100px;top:295.5px;font-size:12.5px;line-height:15px;">卖 1</div>
<div class="a c " style="left:65.0px;width:100px;top:295.5px;font-size:12.5px;line-height:15px;">63178.4400</div>
<div class="a c " style="left:141.0px;width:100px;top:295.5px;font-size:12.5px;line-height:15px;">0.0003</div>
<div class="a g" style="left:30.0px;top:327.0px;font-size:16.2px;line-height:18px;">62799.780000</div>
<div class="a grey" style="left:138.0px;top:330.0px;font-size:11.5px;line-height:14px;">USDT</div>
<div class="a c g" style="left:-12.0px;width:100px;top:361.5px;font-size:12.5px;line-height:15px;">买 1</div>
<div class="a c " style="left:65.0px;width:100px;top:361.5px;font-size:12.5px;line-height:15px;">62799.7700</div>
<div class="a c " style="left:141.0px;width:100px;top:361.5px;font-size:12.5px;line-height:15px;">0.1727</div>
<div class="a" style="left:121px;top:356px;width:109px;height:25px;background:rgba(53,181,88,0.3)"></div>
<div class="a c g" style="left:-12.0px;width:100px;top:386.5px;font-size:12.5px;line-height:15px;">买 2</div>
<div class="a c " style="left:65.0px;width:100px;top:386.5px;font-size:12.5px;line-height:15px;">62798.5800</div>
<div class="a c " style="left:141.0px;width:100px;top:386.5px;font-size:12.5px;line-height:15px;">0.0158</div>
<div class="a" style="left:220px;top:381px;width:10px;height:25px;background:rgba(53,181,88,0.3)"></div>
<div class="a c g" style="left:-12.0px;width:100px;top:411.5px;font-size:12.5px;line-height:15px;">买 3</div>
<div class="a c " style="left:65.0px;width:100px;top:411.5px;font-size:12.5px;line-height:15px;">62797.9800</div>
<div class="a c " style="left:141.0px;width:100px;top:411.5px;font-size:12.5px;line-height:15px;">0.0005</div>
<div class="a c g" style="left:-12.0px;width:100px;top:436.5px;font-size:12.5px;line-height:15px;">买 4</div>
<div class="a c " style="left:65.0px;width:100px;top:436.5px;font-size:12.5px;line-height:15px;">62796.6100</div>
<div class="a c " style="left:141.0px;width:100px;top:436.5px;font-size:12.5px;line-height:15px;">0.0017</div>
<div class="a" style="left:229px;top:431px;width:1px;height:25px;background:rgba(53,181,88,0.3)"></div>
<div class="a c g" style="left:-12.0px;width:100px;top:461.5px;font-size:12.5px;line-height:15px;">买 5</div>
<div class="a c " style="left:65.0px;width:100px;top:461.5px;font-size:12.5px;line-height:15px;">62794.3900</div>
<div class="a c " style="left:141.0px;width:100px;top:461.5px;font-size:12.5px;line-height:15px;">0.2000</div>
<div class="a" style="left:104px;top:456px;width:126px;height:25px;background:rgba(53,181,88,0.3)"></div>
<div class="a c g" style="left:-12.0px;width:100px;top:486.5px;font-size:12.5px;line-height:15px;">买 6</div>
<div class="a c " style="left:65.0px;width:100px;top:486.5px;font-size:12.5px;line-height:15px;">62794.3800</div>
<div class="a c " style="left:141.0px;width:100px;top:486.5px;font-size:12.5px;line-height:15px;">0.1587</div>
<div class="a" style="left:130px;top:481px;width:100px;height:25px;background:rgba(53,181,88,0.3)"></div>
<div class="a c g" style="left:-12.0px;width:100px;top:511.5px;font-size:12.5px;line-height:15px;">买 7</div>
<div class="a c " style="left:65.0px;width:100px;top:511.5px;font-size:12.5px;line-height:15px;">62792.8600</div>
<div class="a c " style="left:141.0px;width:100px;top:511.5px;font-size:12.5px;line-height:15px;">0.0042</div>
<div class="a" style="left:227px;top:506px;width:3px;height:25px;background:rgba(53,181,88,0.3)"></div>
<div class="a c g" style="left:-12.0px;width:100px;top:536.5px;font-size:12.5px;line-height:15px;">买 8</div>
<div class="a c " style="left:65.0px;width:100px;top:536.5px;font-size:12.5px;line-height:15px;">62789.1100</div>
<div class="a c " style="left:141.0px;width:100px;top:536.5px;font-size:12.5px;line-height:15px;">0.1425</div>
<div class="a" style="left:140px;top:531px;width:90px;height:25px;background:rgba(53,181,88,0.3)"></div>
<div class="a c g" style="left:-12.0px;width:100px;top:561.5px;font-size:12.5px;line-height:15px;">买 9</div>
<div class="a c " style="left:65.0px;width:100px;top:561.5px;font-size:12.5px;line-height:15px;">62786.2200</div>
<div class="a c " style="left:141.0px;width:100px;top:561.5px;font-size:12.5px;line-height:15px;">0.0305</div>
<div class="a" style="left:211px;top:556px;width:19px;height:25px;background:rgba(53,181,88,0.3)"></div>
<div class="a c g" style="left:-12.0px;width:100px;top:586.5px;font-size:12.5px;line-height:15px;">买 10</div>
<div class="a c " style="left:65.0px;width:100px;top:586.5px;font-size:12.5px;line-height:15px;">62785.6800</div>
<div class="a c " style="left:141.0px;width:100px;top:586.5px;font-size:12.5px;line-height:15px;">0.3657</div>
<div class="a" style="left:0px;top:581px;width:230px;height:25px;background:rgba(53,181,88,0.3)"></div>
</div>
<div class="p" style="left:1664px;top:52px;width:250px;height:617px">
<div class="a blue" style="left:20.0px;top:13.0px;font-size:14px;line-height:16px;">全站交易</div>
<div class="a" style="left:0;top:39px;width:250px;height:1px;background:#2c394d"></div>
<div class="a c grey" style="left:5.0px;width:100px;top:46.0px;font-size:12px;line-height:14px;">时间</div>
<div class="a c grey" style="left:75.0px;width:100px;top:46.0px;font-size:12px;line-height:14px;">价格</div>
<div class="a c grey" style="left:156.0px;width:100px;top:46.0px;font-size:12px;line-height:14px;">交易数量</div>
<div class="a c g" style="left:5.0px;width:100px;top:71.5px;font-size:12.5px;line-height:15px;">22:44:44</div>
<div class="a c g" style="left:75.0px;width:100px;top:71.5px;font-size:12.5px;line-height:15px;">62799.7800</div>
<div class="a c g" style="left:155.0px;width:100px;top:71.5px;font-size:12.5px;line-height:15px;">0.001669</div>
<div class="a c r" style="left:5.0px;width:100px;top:98.5px;font-size:12.5px;line-height:15px;">22:44:42</div>
<div class="a c r" style="left:75.0px;width:100px;top:98.5px;font-size:12.5px;line-height:15px;">62810.9300</div>
<div class="a c r" style="left:155.0px;width:100px;top:98.5px;font-size:12.5px;line-height:15px;">0.004246</div>
<div class="a c r" style="left:5.0px;width:100px;top:125.5px;font-size:12.5px;line-height:15px;">22:44:30</div>
<div class="a c r" style="left:75.0px;width:100px;top:125.5px;font-size:12.5px;line-height:15px;">62820.5300</div>
<div class="a c r" style="left:155.0px;width:100px;top:125.5px;font-size:12.5px;line-height:15px;">0.006590</div>
<div class="a c r" style="left:5.0px;width:100px;top:152.5px;font-size:12.5px;line-height:15px;">22:44:30</div>
<div class="a c r" style="left:75.0px;width:100px;top:152.5px;font-size:12.5px;line-height:15px;">62820.5300</div>
<div class="a c r" style="left:155.0px;width:100px;top:152.5px;font-size:12.5px;line-height:15px;">0.005203</div>
<div class="a c r" style="left:5.0px;width:100px;top:179.5px;font-size:12.5px;line-height:15px;">22:44:30</div>
<div class="a c r" style="left:75.0px;width:100px;top:179.5px;font-size:12.5px;line-height:15px;">62820.5300</div>
<div class="a c r" style="left:155.0px;width:100px;top:179.5px;font-size:12.5px;line-height:15px;">0.004113</div>
<div class="a c r" style="left:5.0px;width:100px;top:206.5px;font-size:12.5px;line-height:15px;">22:44:29</div>
<div class="a c r" style="left:75.0px;width:100px;top:206.5px;font-size:12.5px;line-height:15px;">62829.0100</div>
<div class="a c r" style="left:155.0px;width:100px;top:206.5px;font-size:12.5px;line-height:15px;">0.004245</div>
<div class="a c r" style="left:5.0px;width:100px;top:233.5px;font-size:12.5px;line-height:15px;">22:44:25</div>
<div class="a c r" style="left:75.0px;width:100px;top:233.5px;font-size:12.5px;line-height:15px;">62846.9300</div>
<div class="a c r" style="left:155.0px;width:100px;top:233.5px;font-size:12.5px;line-height:15px;">0.001078</div>
<div class="a c r" style="left:5.0px;width:100px;top:260.5px;font-size:12.5px;line-height:15px;">22:44:25</div>
<div class="a c r" style="left:75.0px;width:100px;top:260.5px;font-size:12.5px;line-height:15px;">62847.0900</div>
<div class="a c r" style="left:155.0px;width:100px;top:260.5px;font-size:12.5px;line-height:15px;">0.004244</div>
<div class="a c r" style="left:5.0px;width:100px;top:287.5px;font-size:12.5px;line-height:15px;">22:43:56</div>
<div class="a c r" style="left:75.0px;width:100px;top:287.5px;font-size:12.5px;line-height:15px;">62847.5800</div>
<div class="a c r" style="left:155.0px;width:100px;top:287.5px;font-size:12.5px;line-height:15px;">0.000193</div>
<div class="a c r" style="left:5.0px;width:100px;top:314.5px;font-size:12.5px;line-height:15px;">22:43:56</div>
<div class="a c r" style="left:75.0px;width:100px;top:314.5px;font-size:12.5px;line-height:15px;">62847.5800</div>
<div class="a c r" style="left:155.0px;width:100px;top:314.5px;font-size:12.5px;line-height:15px;">0.000570</div>
<div class="a c g" style="left:5.0px;width:100px;top:341.5px;font-size:12.5px;line-height:15px;">22:43:33</div>
<div class="a c g" style="left:75.0px;width:100px;top:341.5px;font-size:12.5px;line-height:15px;">62847.5900</div>
<div class="a c g" style="left:155.0px;width:100px;top:341.5px;font-size:12.5px;line-height:15px;">0.001300</div>
<div class="a c g" style="left:5.0px;width:100px;top:368.5px;font-size:12.5px;line-height:15px;">22:43:31</div>
<div class="a c g" style="left:75.0px;width:100px;top:368.5px;font-size:12.5px;line-height:15px;">62847.5900</div>
<div class="a c g" style="left:155.0px;width:100px;top:368.5px;font-size:12.5px;line-height:15px;">0.005600</div>
<div class="a c r" style="left:5.0px;width:100px;top:395.5px;font-size:12.5px;line-height:15px;">22:43:30</div>
<div class="a c r" style="left:75.0px;width:100px;top:395.5px;font-size:12.5px;line-height:15px;">62847.5800</div>
<div class="a c r" style="left:155.0px;width:100px;top:395.5px;font-size:12.5px;line-height:15px;">0.000242</div>
<div class="a c g" style="left:5.0px;width:100px;top:422.5px;font-size:12.5px;line-height:15px;">22:43:30</div>
<div class="a c g" style="left:75.0px;width:100px;top:422.5px;font-size:12.5px;line-height:15px;">62847.5900</div>
<div class="a c g" style="left:155.0px;width:100px;top:422.5px;font-size:12.5px;line-height:15px;">0.002100</div>
<div class="a c r" style="left:5.0px;width:100px;top:449.5px;font-size:12.5px;line-height:15px;">22:43:23</div>
<div class="a c r" style="left:75.0px;width:100px;top:449.5px;font-size:12.5px;line-height:15px;">62860.0200</div>
<div class="a c r" style="left:155.0px;width:100px;top:449.5px;font-size:12.5px;line-height:15px;">0.015906</div>
<div class="a c r" style="left:5.0px;width:100px;top:476.5px;font-size:12.5px;line-height:15px;">22:43:23</div>
<div class="a c r" style="left:75.0px;width:100px;top:476.5px;font-size:12.5px;line-height:15px;">62865.1800</div>
<div class="a c r" style="left:155.0px;width:100px;top:476.5px;font-size:12.5px;line-height:15px;">0.000017</div>
<div class="a c r" style="left:5.0px;width:100px;top:503.5px;font-size:12.5px;line-height:15px;">22:43:23</div>
<div class="a c r" style="left:75.0px;width:100px;top:503.5px;font-size:12.5px;line-height:15px;">62865.1800</div>
<div class="a c r" style="left:155.0px;width:100px;top:503.5px;font-size:12.5px;line-height:15px;">0.002800</div>
<div class="a c r" style="left:5.0px;width:100px;top:530.5px;font-size:12.5px;line-height:15px;">22:43:21</div>
<div class="a c r" style="left:75.0px;width:100px;top:530.5px;font-size:12.5px;line-height:15px;">62865.1800</div>
<div class="a c r" style="left:155.0px;width:100px;top:530.5px;font-size:12.5px;line-height:15px;">0.000223</div>
<div class="a c r" style="left:5.0px;width:100px;top:557.5px;font-size:12.5px;line-height:15px;">22:43:21</div>
<div class="a c r" style="left:75.0px;width:100px;top:557.5px;font-size:12.5px;line-height:15px;">62865.1800</div>
<div class="a c r" style="left:155.0px;width:100px;top:557.5px;font-size:12.5px;line-height:15px;">0.001007</div>
<div class="a c r" style="left:5.0px;width:100px;top:584.5px;font-size:12.5px;line-height:15px;">22:43:19</div>
<div class="a c r" style="left:75.0px;width:100px;top:584.5px;font-size:12.5px;line-height:15px;">62865.1800</div>
<div class="a c r" style="left:155.0px;width:100px;top:584.5px;font-size:12.5px;line-height:15px;">0.000199</div>
</div>
<div class="p" style="left:0;top:672px;width:1508px;height:650px">
<div class="a blue" style="left:20.0px;top:17.5px;font-size:16px;line-height:18px;">交易中</div>
<div class="a" style="left:20px;top:36px;width:48px;height:1.5px;background:#e8b31c"></div>
<div class="a " style="left:88.0px;top:17.5px;font-size:16px;line-height:18px;color:#e3e6ee">已平仓</div>
<div class="a " style="left:20.0px;top:50.5px;font-size:14px;line-height:16px;color:#dde1e9">交易对</div>
<div class="a c " style="left:429.0px;width:200px;top:50.5px;font-size:14px;line-height:16px;color:#dde1e9">开仓数量</div>
<div class="a c " style="left:608.0px;width:200px;top:50.5px;font-size:14px;line-height:16px;color:#dde1e9">购买价</div>
<div class="a c " style="left:832.0px;width:200px;top:50.5px;font-size:14px;line-height:16px;color:#dde1e9">当前价</div>
<div class="a c " style="left:1055.0px;width:200px;top:50.5px;font-size:14px;line-height:16px;color:#dde1e9">预计盈亏</div>
<div class="a rt " style="left:1276.0px;width:200px;top:50.5px;font-size:14px;line-height:16px;color:#dde1e9">倒计时</div>
<div class="a" style="left:20px;top:75px;width:1468px;height:1px;background:#2d3b4b"></div>
<div class="a " style="left:20.0px;top:86.0px;font-size:12px;line-height:15px;color:#dde1e9">BTC/USDT 30s</div>
<div class="a c " style="left:429.0px;width:200px;top:86.0px;font-size:12.5px;line-height:15px;color:#dde1e9">5 USDT</div>
<div class="a " style="left:665.0px;top:86.0px;font-size:12.5px;line-height:15px;color:#dde1e9">62820.4800</div>
<svg style="left:737px;top:85px" width="12" height="14" viewBox="0 0 12 14"><path d="M4.5 0h3v8h3.5L6 13.5 1 8h3.5z" fill="#f5474f"/></svg>
<div class="a c " style="left:832.0px;width:200px;top:86.0px;font-size:12.5px;line-height:15px;color:#dde1e9">62799.7800</div>
<div class="a c r" style="left:1055.0px;width:200px;top:86.0px;font-size:12.5px;line-height:15px;">-5</div>
<div class="a rt " style="left:1276.0px;width:200px;top:86.0px;font-size:12.5px;line-height:15px;color:#dde1e9">23.7s</div>
</div>
<div class="p" style="left:1511px;top:672px;width:403px;height:650px">
<div class="a teal" style="left:30.0px;top:22.5px;font-size:16px;line-height:18px;">秒合约账户</div>
<div class="a" style="left:30px;top:41px;width:80px;height:1px;background:#2fbd8f"></div>
<div class="a rt " style="left:183.0px;width:200px;top:22.5px;font-size:16px;line-height:18px;color:#e3e6ee">划转</div>
<div class="a c " style="left:82.0px;width:240px;top:63.0px;font-size:14px;line-height:16px;color:#dde1e9">1099770.00000000 USDT</div>
<svg style="left:20px;top:102px" width="16" height="16" viewBox="0 0 16 16"><path d="M8 8L8.00 2.00M8.00 2.00L10.29 0.57M8.00 2.00L5.71 0.57M8 8L2.80 11.00M2.80 11.00L0.42 9.73M2.80 11.00L2.71 13.70M8 8L13.20 11.00M13.20 11.00L13.29 13.70M13.20 11.00L15.58 9.73M8 8L8.00 14.00M8.00 14.00L5.71 15.43M8.00 14.00L10.29 15.43M8 8L13.20 5.00M13.20 5.00L15.58 6.27M13.20 5.00L13.29 2.30M8 8L2.80 5.00M2.80 5.00L2.71 2.30M2.80 5.00L0.42 6.27" stroke="#0ea5dd" stroke-width="1.15" fill="none"/><circle cx="8" cy="8" r="1.6" fill="#0ea5dd"/></svg>
<div class="a " style="left:46.0px;top:102.0px;font-size:14px;line-height:16px;color:#dde1e9">交易模式</div>
<div class="a" style="left:20px;top:141px;width:363px;height:30px;border:1px solid #6f5b22;border-radius:5px"></div>
<div class="a c " style="left:102.0px;width:200px;top:150.5px;font-size:12.5px;line-height:15px;color:#f2f4f8;font-weight:bold">USDT</div>
<svg style="left:19px;top:201px" width="18" height="18" viewBox="0 0 18 18"><rect x="0.8" y="1" width="10.2" height="13" rx="3" fill="#0ea5dd"/><path d="M2.6 4.6H9.2M2.6 7.5H9.2M2.6 10.5H9.2" stroke="#13456a" stroke-width="0.9"/><rect x="6.3" y="7" width="10.4" height="10" rx="3" fill="#0ea5dd" stroke="#1b2a40" stroke-width="0.9"/><path d="M8.2 10.6H14.8M8.2 13.6H14.8" stroke="#13456a" stroke-width="0.9"/></svg>
<div class="a " style="left:46.0px;top:202.0px;font-size:14px;line-height:16px;color:#dde1e9">开仓数量</div>
<div class="a" style="left:20px;top:241px;width:41px;height:32px;border:1px solid #2e3a48;border-radius:4px"></div>
<div class="a c " style="left:10.5px;width:60px;top:250.0px;font-size:12.5px;line-height:15px;color:#f2f4f8">0</div>
<div class="a" style="left:73px;top:241px;width:41px;height:32px;border:1px solid #6f5b22;border-radius:4px"></div>
<div class="a c " style="left:63.5px;width:60px;top:250.0px;font-size:12.5px;line-height:15px;color:#f2f4f8">5</div>
<div class="a" style="left:126px;top:241px;width:42px;height:32px;border:1px solid #2e3a48;border-radius:4px"></div>
<div class="a c " style="left:117.0px;width:60px;top:250.0px;font-size:12.5px;line-height:15px;color:#f2f4f8">100</div>
<div class="a" style="left:180px;top:241px;width:41px;height:32px;border:1px solid #2e3a48;border-radius:4px"></div>
<div class="a c " style="left:170.5px;width:60px;top:250.0px;font-size:12.5px;line-height:15px;color:#f2f4f8">200</div>
<div class="a" style="left:221px;top:241px;width:41px;height:32px;border:1px solid #2e3a48;border-radius:4px"></div>
<div class="a c " style="left:211.5px;width:60px;top:250.0px;font-size:12.5px;line-height:15px;color:#f2f4f8">500</div>
<div class="a" style="left:274px;top:241px;width:41px;height:32px;border:1px solid #2e3a48;border-radius:4px"></div>
<div class="a c " style="left:264.5px;width:60px;top:250.0px;font-size:12.5px;line-height:15px;color:#f2f4f8">1000</div>
<div class="a" style="left:327px;top:241px;width:44px;height:32px;border:1px solid #2e3a48;border-radius:4px"></div>
<div class="a c " style="left:319.0px;width:60px;top:250.0px;font-size:12.5px;line-height:15px;color:#f2f4f8">100000</div>
<div class="a" style="left:20px;top:283px;width:363px;height:40px;border:1px solid #2e3a48;border-radius:3px"></div>
<div class="a " style="left:36.0px;top:296.0px;font-size:12.5px;line-height:15px;color:#dde1e9">5</div>
<svg style="left:20px;top:345px" width="16" height="16" viewBox="0 0 16 16"><circle cx="7.8" cy="7.5" r="7" stroke="#0ea5dd" stroke-width="1.5" fill="none"/><path d="M7.5 4.2V8.2H11.6" stroke="#0ea5dd" stroke-width="1.4" fill="none"/></svg>
<div class="a " style="left:46.0px;top:344.0px;font-size:14px;line-height:16px;color:#dde1e9">开仓时间</div>
<div class="a" style="left:20px;top:383px;width:51px;height:32px;border:1px solid #6f5b22;border-radius:4px"></div>
<div class="a c " style="left:15.5px;width:60px;top:392.0px;font-size:12.5px;line-height:15px;color:#f2f4f8">30S</div>
<div class="a" style="left:83px;top:383px;width:50px;height:32px;border:1px solid #2e3a48;border-radius:4px"></div>
<div class="a c " style="left:78.0px;width:60px;top:392.0px;font-size:12.5px;line-height:15px;color:#f2f4f8">1M</div>
<div class="a" style="left:145px;top:383px;width:51px;height:32px;border:1px solid #2e3a48;border-radius:4px"></div>
<div class="a c " style="left:140.5px;width:60px;top:392.0px;font-size:12.5px;line-height:15px;color:#f2f4f8">2M</div>
<div class="a" style="left:208px;top:383px;width:50px;height:32px;border:1px solid #2e3a48;border-radius:4px"></div>
<div class="a c " style="left:203.0px;width:60px;top:392.0px;font-size:12.5px;line-height:15px;color:#f2f4f8">3M</div>
<div class="a" style="left:258px;top:383px;width:51px;height:32px;border:1px solid #2e3a48;border-radius:4px"></div>
<div class="a c " style="left:253.5px;width:60px;top:392.0px;font-size:12.5px;line-height:15px;color:#f2f4f8">4M</div>
<div class="a" style="left:321px;top:383px;width:50px;height:32px;border:1px solid #2e3a48;border-radius:4px"></div>
<div class="a c " style="left:316.0px;width:60px;top:392.0px;font-size:12.5px;line-height:15px;color:#f2f4f8">5M</div>
<div class="a " style="left:20.0px;top:446.0px;font-size:14px;line-height:16px;color:#dde1e9">余额</div>
<div class="a rt " style="left:133.0px;width:250px;top:446.0px;font-size:14px;line-height:16px;color:#dde1e9">1099765.00000000USDT</div>
<div class="a " style="left:20.0px;top:475.0px;font-size:14px;line-height:16px;color:#dde1e9">盈利率</div>
<div class="a rt " style="left:183.0px;width:200px;top:475.0px;font-size:14px;line-height:16px;color:#dde1e9">40.00%</div>
<div class="a" style="left:20px;top:508px;width:177px;height:40px;background:#35b558;border-radius:9px"></div>
<div class="a c " style="left:8.5px;width:200px;top:519.5px;font-size:16px;line-height:18px;color:#fff">买涨</div>
<div class="a" style="left:207px;top:508px;width:176px;height:40px;background:#ff4a4f;border-radius:9px"></div>
<div class="a c " style="left:195.0px;width:200px;top:519.5px;font-size:16px;line-height:18px;color:#fff">买跌</div>
</div>
<div class="a" style="left:0;top:1325px;width:1914px;height:259px;background:#171c2a">
<svg style="left:130px;top:30px" width="80" height="80" viewBox="0 0 80 80"><rect width="80" height="80" rx="17" fill="#fff"/><path d="M30 21.7H39V39H34.5V34.7H30C26.5 34.7 24.5 32 24.5 28.2 24.5 24.4 26.5 21.7 30 21.7ZM29.5 27.4V30.2H34V27.4Z" fill="#5a2dff" fill-rule="evenodd"/><rect x="40.6" y="21.7" width="4" height="17.3" fill="#5a2dff"/><circle cx="49" cy="33" r="5" stroke="#ff9800" stroke-width="3.4" fill="none"/><path d="M13.5 46.2h4.5v7.8h-2v-2.2h-2.5c-1.4 0-2.2-1.2-2.2-2.8s0.8-2.8 2.2-2.8zM13.3 48.6v1h2.5v-1z" fill="#5a2dff" fill-rule="evenodd"/><rect x="18.6" y="46.2" width="1.8" height="7.8" fill="#5a2dff"/><circle cx="22.3" cy="51.2" r="2" stroke="#ff9800" stroke-width="1.3" fill="none"/><text x="26.5" y="53.6" font-size="8.3" font-weight="bold" fill="#5a2dff" font-family="Liberation Sans, sans-serif" textLength="45" lengthAdjust="spacingAndGlyphs">起步源码网</text></svg>
<div class="a " style="left:992.0px;top:31.5px;font-size:16px;line-height:18px;color:#8a8f9b">关于</div>
<div class="a " style="left:992.0px;top:68.5px;font-size:12px;line-height:15px;color:#e8eaf0">法律声明</div>
<div class="a " style="left:992.0px;top:94.5px;font-size:12px;line-height:15px;color:#e8eaf0">关于我们</div>
<div class="a " style="left:1273.0px;top:31.5px;font-size:16px;line-height:18px;color:#8a8f9b">条款说明</div>
<div class="a " style="left:1273.0px;top:68.5px;font-size:12px;line-height:15px;color:#e8eaf0">用户协议</div>
<div class="a " style="left:1273.0px;top:94.5px;font-size:12px;line-height:15px;color:#e8eaf0">隐私条例</div>
<div class="a " style="left:1663.0px;top:31.5px;font-size:16px;line-height:18px;color:#f0b420">在线客服</div>
<svg style="left:1676px;top:71px" width="36" height="34" viewBox="1676 1396 36 34"><path d="M1681.9 1413.5A12.2 12.2 0 0 1 1706.3 1413.5" stroke="#62d49c" stroke-width="2.2" fill="none"/><rect x="1679" y="1411.2" width="5" height="7" rx="0.8" fill="#5cd096"/><rect x="1704" y="1411.2" width="5" height="7" rx="0.8" fill="#6ad8a4"/><path d="M1688.6 1415.2Q1694 1421 1699.5 1415.2" stroke="#fff" stroke-width="2" fill="none" stroke-linecap="round"/><path d="M1706.3 1417.5Q1705 1424 1696 1426.5" stroke="#62d49c" stroke-width="1.6" fill="none"/><circle cx="1695.5" cy="1426.3" r="2.6" fill="#62d49c"/></svg>
<div class="a" style="left:0;top:163px;width:1914px;height:1px;background:#2b303c"></div>
<div class="a c teal" style="left:857.0px;width:200px;top:183.0px;font-size:21.5px;line-height:24px;color:#2ebd8f">Bitop</div>
<div class="a c " style="left:807.0px;width:300px;top:217.5px;font-size:13.3px;line-height:16px;color:#7d8393">©Copyright 2023 Bitop. All rights reserved.</div>
</div>
</body></html>
